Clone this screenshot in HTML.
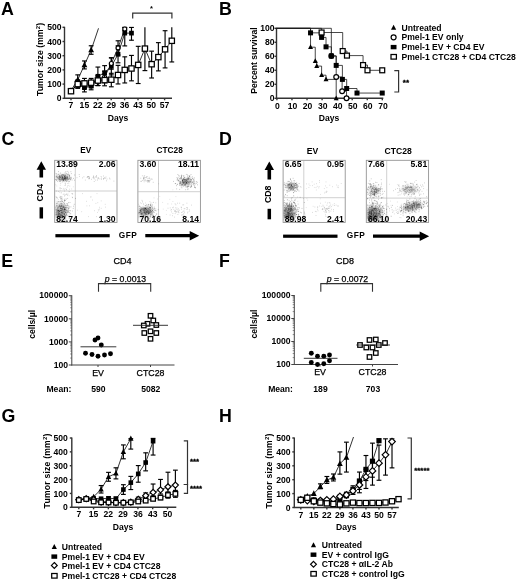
<!DOCTYPE html>
<html><head><meta charset="utf-8"><title>Figure</title>
<style>html,body{margin:0;padding:0;background:#fff;overflow:hidden}svg{display:block;filter:blur(0.3px)}text{font-family:"Liberation Sans",Arial,sans-serif;fill:#000}</style>
</head><body>
<svg width="520" height="582" viewBox="0 0 520 582">
<rect width="520" height="582" fill="#fff"/>
<defs><filter id="bl1_5" x="-50%" y="-50%" width="200%" height="200%"><feGaussianBlur stdDeviation="1.5"/></filter></defs>
<text x="1" y="15" font-size="17.8" font-weight="bold" text-anchor="start" >A</text>
<text x="219" y="15" font-size="17.8" font-weight="bold" text-anchor="start" >B</text>
<text x="1.5" y="145" font-size="17.8" font-weight="bold" text-anchor="start" >C</text>
<text x="219" y="145" font-size="17.8" font-weight="bold" text-anchor="start" >D</text>
<text x="1.2" y="266.7" font-size="17.8" font-weight="bold" text-anchor="start" >E</text>
<text x="219" y="266.7" font-size="17.8" font-weight="bold" text-anchor="start" >F</text>
<text x="1.6" y="422.1" font-size="17.8" font-weight="bold" text-anchor="start" >G</text>
<text x="219" y="422.1" font-size="17.8" font-weight="bold" text-anchor="start" >H</text>
<line x1="64.50" y1="26.80" x2="64.50" y2="98.80" stroke="#333" stroke-width="1.4" />
<line x1="64.00" y1="98.30" x2="172.00" y2="98.30" stroke="#333" stroke-width="1.4" />
<line x1="62.50" y1="98.30" x2="64.50" y2="98.30" stroke="#333" stroke-width="1.4" />
<text x="61.5" y="101.39999999999999" font-size="8.6" font-weight="bold" text-anchor="end"  class="t">0</text>
<line x1="62.50" y1="84.10" x2="64.50" y2="84.10" stroke="#333" stroke-width="1.4" />
<text x="61.5" y="87.19999999999999" font-size="8.6" font-weight="bold" text-anchor="end"  class="t">100</text>
<line x1="62.50" y1="69.90" x2="64.50" y2="69.90" stroke="#333" stroke-width="1.4" />
<text x="61.5" y="73.0" font-size="8.6" font-weight="bold" text-anchor="end"  class="t">200</text>
<line x1="62.50" y1="55.70" x2="64.50" y2="55.70" stroke="#333" stroke-width="1.4" />
<text x="61.5" y="58.8" font-size="8.6" font-weight="bold" text-anchor="end"  class="t">300</text>
<line x1="62.50" y1="41.50" x2="64.50" y2="41.50" stroke="#333" stroke-width="1.4" />
<text x="61.5" y="44.6" font-size="8.6" font-weight="bold" text-anchor="end"  class="t">400</text>
<line x1="62.50" y1="27.30" x2="64.50" y2="27.30" stroke="#333" stroke-width="1.4" />
<text x="61.5" y="30.4" font-size="8.6" font-weight="bold" text-anchor="end"  class="t">500</text>
<line x1="71.00" y1="98.30" x2="71.00" y2="100.30" stroke="#333" stroke-width="1.4" />
<text x="71" y="108.3" font-size="8.6" font-weight="bold" text-anchor="middle"  class="t">7</text>
<line x1="84.40" y1="98.30" x2="84.40" y2="100.30" stroke="#333" stroke-width="1.4" />
<text x="84.4" y="108.3" font-size="8.6" font-weight="bold" text-anchor="middle"  class="t">15</text>
<line x1="97.80" y1="98.30" x2="97.80" y2="100.30" stroke="#333" stroke-width="1.4" />
<text x="97.8" y="108.3" font-size="8.6" font-weight="bold" text-anchor="middle"  class="t">22</text>
<line x1="111.20" y1="98.30" x2="111.20" y2="100.30" stroke="#333" stroke-width="1.4" />
<text x="111.2" y="108.3" font-size="8.6" font-weight="bold" text-anchor="middle"  class="t">29</text>
<line x1="124.60" y1="98.30" x2="124.60" y2="100.30" stroke="#333" stroke-width="1.4" />
<text x="124.6" y="108.3" font-size="8.6" font-weight="bold" text-anchor="middle"  class="t">36</text>
<line x1="138.00" y1="98.30" x2="138.00" y2="100.30" stroke="#333" stroke-width="1.4" />
<text x="138" y="108.3" font-size="8.6" font-weight="bold" text-anchor="middle"  class="t">43</text>
<line x1="151.30" y1="98.30" x2="151.30" y2="100.30" stroke="#333" stroke-width="1.4" />
<text x="151.3" y="108.3" font-size="8.6" font-weight="bold" text-anchor="middle"  class="t">50</text>
<line x1="164.60" y1="98.30" x2="164.60" y2="100.30" stroke="#333" stroke-width="1.4" />
<text x="164.6" y="108.3" font-size="8.6" font-weight="bold" text-anchor="middle"  class="t">57</text>
<text x="42.7" y="59.4" font-size="8.6" font-weight="bold" text-anchor="middle" transform="rotate(-90 42.7 59.4)" letter-spacing="0.1" class="t">Tumor size (mm<tspan font-size="6" dy="-3">2</tspan><tspan dy="3">)</tspan></text>
<text x="118" y="121" font-size="8.6" font-weight="bold" text-anchor="middle"  class="t">Days</text>
<polyline points="71.00,90.49 77.72,79.84 84.44,64.93 91.16,50.02 98.50,28.30" fill="none" stroke="#000" stroke-width="0.8"/>
<line x1="77.72" y1="74.87" x2="77.72" y2="84.81" stroke="#000" stroke-width="1.15" />
<line x1="75.32" y1="74.87" x2="80.12" y2="74.87" stroke="#000" stroke-width="1.15" />
<line x1="75.32" y1="84.81" x2="80.12" y2="84.81" stroke="#000" stroke-width="1.15" />
<line x1="84.44" y1="60.95" x2="84.44" y2="68.91" stroke="#000" stroke-width="1.15" />
<line x1="82.04" y1="60.95" x2="86.84" y2="60.95" stroke="#000" stroke-width="1.15" />
<line x1="82.04" y1="68.91" x2="86.84" y2="68.91" stroke="#000" stroke-width="1.15" />
<line x1="91.16" y1="45.76" x2="91.16" y2="54.28" stroke="#000" stroke-width="1.15" />
<line x1="88.76" y1="45.76" x2="93.56" y2="45.76" stroke="#000" stroke-width="1.15" />
<line x1="88.76" y1="54.28" x2="93.56" y2="54.28" stroke="#000" stroke-width="1.15" />
<path d="M71.00 87.19 L73.90 92.79 L68.10 92.79 Z" fill="#000"/>
<path d="M77.72 76.54 L80.62 82.14 L74.82 82.14 Z" fill="#000"/>
<path d="M84.44 61.63 L87.34 67.23 L81.54 67.23 Z" fill="#000"/>
<path d="M91.16 46.72 L94.06 52.32 L88.26 52.32 Z" fill="#000"/>
<polyline points="71.00,91.20 77.72,84.10 84.44,87.65 91.16,86.23 97.88,76.29 104.60,72.74 111.32,66.35 118.04,54.28 124.76,33.12 131.48,33.12" fill="none" stroke="#000" stroke-width="0.8"/>
<line x1="71.00" y1="91.20" x2="71.00" y2="91.20" stroke="#000" stroke-width="1.15" />
<line x1="68.60" y1="91.20" x2="73.40" y2="91.20" stroke="#000" stroke-width="1.15" />
<line x1="68.60" y1="91.20" x2="73.40" y2="91.20" stroke="#000" stroke-width="1.15" />
<line x1="77.72" y1="79.84" x2="77.72" y2="88.36" stroke="#000" stroke-width="1.15" />
<line x1="75.32" y1="79.84" x2="80.12" y2="79.84" stroke="#000" stroke-width="1.15" />
<line x1="75.32" y1="88.36" x2="80.12" y2="88.36" stroke="#000" stroke-width="1.15" />
<line x1="84.44" y1="83.39" x2="84.44" y2="91.91" stroke="#000" stroke-width="1.15" />
<line x1="82.04" y1="83.39" x2="86.84" y2="83.39" stroke="#000" stroke-width="1.15" />
<line x1="82.04" y1="91.91" x2="86.84" y2="91.91" stroke="#000" stroke-width="1.15" />
<line x1="91.16" y1="82.68" x2="91.16" y2="89.78" stroke="#000" stroke-width="1.15" />
<line x1="88.76" y1="82.68" x2="93.56" y2="82.68" stroke="#000" stroke-width="1.15" />
<line x1="88.76" y1="89.78" x2="93.56" y2="89.78" stroke="#000" stroke-width="1.15" />
<line x1="97.88" y1="67.06" x2="97.88" y2="85.52" stroke="#000" stroke-width="1.15" />
<line x1="95.48" y1="67.06" x2="100.28" y2="67.06" stroke="#000" stroke-width="1.15" />
<line x1="95.48" y1="85.52" x2="100.28" y2="85.52" stroke="#000" stroke-width="1.15" />
<line x1="104.60" y1="65.64" x2="104.60" y2="79.84" stroke="#000" stroke-width="1.15" />
<line x1="102.20" y1="65.64" x2="107.00" y2="65.64" stroke="#000" stroke-width="1.15" />
<line x1="102.20" y1="79.84" x2="107.00" y2="79.84" stroke="#000" stroke-width="1.15" />
<line x1="111.32" y1="57.83" x2="111.32" y2="74.87" stroke="#000" stroke-width="1.15" />
<line x1="108.92" y1="57.83" x2="113.72" y2="57.83" stroke="#000" stroke-width="1.15" />
<line x1="108.92" y1="74.87" x2="113.72" y2="74.87" stroke="#000" stroke-width="1.15" />
<line x1="118.04" y1="45.76" x2="118.04" y2="62.80" stroke="#000" stroke-width="1.15" />
<line x1="115.64" y1="45.76" x2="120.44" y2="45.76" stroke="#000" stroke-width="1.15" />
<line x1="115.64" y1="62.80" x2="120.44" y2="62.80" stroke="#000" stroke-width="1.15" />
<line x1="124.76" y1="27.44" x2="124.76" y2="45.90" stroke="#000" stroke-width="1.15" />
<line x1="122.36" y1="27.44" x2="127.16" y2="27.44" stroke="#000" stroke-width="1.15" />
<line x1="122.36" y1="45.90" x2="127.16" y2="45.90" stroke="#000" stroke-width="1.15" />
<line x1="131.48" y1="27.44" x2="131.48" y2="40.22" stroke="#000" stroke-width="1.15" />
<line x1="129.08" y1="27.44" x2="133.88" y2="27.44" stroke="#000" stroke-width="1.15" />
<line x1="129.08" y1="40.22" x2="133.88" y2="40.22" stroke="#000" stroke-width="1.15" />
<rect x="68.65" y="88.85" width="4.70" height="4.70" fill="#000"/>
<rect x="75.37" y="81.75" width="4.70" height="4.70" fill="#000"/>
<rect x="82.09" y="85.30" width="4.70" height="4.70" fill="#000"/>
<rect x="88.81" y="83.88" width="4.70" height="4.70" fill="#000"/>
<rect x="95.53" y="73.94" width="4.70" height="4.70" fill="#000"/>
<rect x="102.25" y="70.39" width="4.70" height="4.70" fill="#000"/>
<rect x="108.97" y="64.00" width="4.70" height="4.70" fill="#000"/>
<rect x="115.69" y="51.93" width="4.70" height="4.70" fill="#000"/>
<rect x="122.41" y="30.77" width="4.70" height="4.70" fill="#000"/>
<rect x="129.13" y="30.77" width="4.70" height="4.70" fill="#000"/>
<polyline points="71.00,91.20 77.72,83.39 84.44,84.10 91.16,84.10 97.88,81.26 104.60,77.00 111.32,63.51 118.04,47.89 124.76,29.00" fill="none" stroke="#000" stroke-width="0.8"/>
<line x1="71.00" y1="91.20" x2="71.00" y2="91.20" stroke="#000" stroke-width="1.15" />
<line x1="68.60" y1="91.20" x2="73.40" y2="91.20" stroke="#000" stroke-width="1.15" />
<line x1="68.60" y1="91.20" x2="73.40" y2="91.20" stroke="#000" stroke-width="1.15" />
<line x1="77.72" y1="80.55" x2="77.72" y2="86.23" stroke="#000" stroke-width="1.15" />
<line x1="75.32" y1="80.55" x2="80.12" y2="80.55" stroke="#000" stroke-width="1.15" />
<line x1="75.32" y1="86.23" x2="80.12" y2="86.23" stroke="#000" stroke-width="1.15" />
<line x1="84.44" y1="81.26" x2="84.44" y2="86.94" stroke="#000" stroke-width="1.15" />
<line x1="82.04" y1="81.26" x2="86.84" y2="81.26" stroke="#000" stroke-width="1.15" />
<line x1="82.04" y1="86.94" x2="86.84" y2="86.94" stroke="#000" stroke-width="1.15" />
<line x1="91.16" y1="81.26" x2="91.16" y2="86.94" stroke="#000" stroke-width="1.15" />
<line x1="88.76" y1="81.26" x2="93.56" y2="81.26" stroke="#000" stroke-width="1.15" />
<line x1="88.76" y1="86.94" x2="93.56" y2="86.94" stroke="#000" stroke-width="1.15" />
<line x1="97.88" y1="77.00" x2="97.88" y2="85.52" stroke="#000" stroke-width="1.15" />
<line x1="95.48" y1="77.00" x2="100.28" y2="77.00" stroke="#000" stroke-width="1.15" />
<line x1="95.48" y1="85.52" x2="100.28" y2="85.52" stroke="#000" stroke-width="1.15" />
<line x1="104.60" y1="71.32" x2="104.60" y2="82.68" stroke="#000" stroke-width="1.15" />
<line x1="102.20" y1="71.32" x2="107.00" y2="71.32" stroke="#000" stroke-width="1.15" />
<line x1="102.20" y1="82.68" x2="107.00" y2="82.68" stroke="#000" stroke-width="1.15" />
<line x1="111.32" y1="57.83" x2="111.32" y2="69.19" stroke="#000" stroke-width="1.15" />
<line x1="108.92" y1="57.83" x2="113.72" y2="57.83" stroke="#000" stroke-width="1.15" />
<line x1="108.92" y1="69.19" x2="113.72" y2="69.19" stroke="#000" stroke-width="1.15" />
<line x1="118.04" y1="40.79" x2="118.04" y2="54.99" stroke="#000" stroke-width="1.15" />
<line x1="115.64" y1="40.79" x2="120.44" y2="40.79" stroke="#000" stroke-width="1.15" />
<line x1="115.64" y1="54.99" x2="120.44" y2="54.99" stroke="#000" stroke-width="1.15" />
<line x1="124.76" y1="27.44" x2="124.76" y2="30.57" stroke="#000" stroke-width="1.15" />
<line x1="122.36" y1="27.44" x2="127.16" y2="27.44" stroke="#000" stroke-width="1.15" />
<line x1="122.36" y1="30.57" x2="127.16" y2="30.57" stroke="#000" stroke-width="1.15" />
<circle cx="71.00" cy="91.20" r="2.00" fill="#fff" stroke="#000" stroke-width="1.2"/>
<circle cx="77.72" cy="83.39" r="2.00" fill="#fff" stroke="#000" stroke-width="1.2"/>
<circle cx="84.44" cy="84.10" r="2.00" fill="#fff" stroke="#000" stroke-width="1.2"/>
<circle cx="91.16" cy="84.10" r="2.00" fill="#fff" stroke="#000" stroke-width="1.2"/>
<circle cx="97.88" cy="81.26" r="2.00" fill="#fff" stroke="#000" stroke-width="1.2"/>
<circle cx="104.60" cy="77.00" r="2.00" fill="#fff" stroke="#000" stroke-width="1.2"/>
<circle cx="111.32" cy="63.51" r="2.00" fill="#fff" stroke="#000" stroke-width="1.2"/>
<circle cx="118.04" cy="47.89" r="2.00" fill="#fff" stroke="#000" stroke-width="1.2"/>
<circle cx="124.76" cy="29.00" r="2.00" fill="#fff" stroke="#000" stroke-width="1.2"/>
<polyline points="71.00,91.20 77.72,84.10 84.44,83.39 91.16,82.68 97.88,80.55 104.60,80.12 111.32,79.70 118.04,75.01 124.76,69.90 131.48,68.48 138.20,64.93 144.92,48.60 151.64,64.22 158.36,57.12 165.08,49.31 171.80,40.79" fill="none" stroke="#000" stroke-width="0.8"/>
<line x1="71.00" y1="91.20" x2="71.00" y2="91.20" stroke="#000" stroke-width="1.15" />
<line x1="68.60" y1="91.20" x2="73.40" y2="91.20" stroke="#000" stroke-width="1.15" />
<line x1="68.60" y1="91.20" x2="73.40" y2="91.20" stroke="#000" stroke-width="1.15" />
<line x1="77.72" y1="80.55" x2="77.72" y2="87.65" stroke="#000" stroke-width="1.15" />
<line x1="75.32" y1="80.55" x2="80.12" y2="80.55" stroke="#000" stroke-width="1.15" />
<line x1="75.32" y1="87.65" x2="80.12" y2="87.65" stroke="#000" stroke-width="1.15" />
<line x1="84.44" y1="78.42" x2="84.44" y2="88.36" stroke="#000" stroke-width="1.15" />
<line x1="82.04" y1="78.42" x2="86.84" y2="78.42" stroke="#000" stroke-width="1.15" />
<line x1="82.04" y1="88.36" x2="86.84" y2="88.36" stroke="#000" stroke-width="1.15" />
<line x1="91.16" y1="78.42" x2="91.16" y2="86.94" stroke="#000" stroke-width="1.15" />
<line x1="88.76" y1="78.42" x2="93.56" y2="78.42" stroke="#000" stroke-width="1.15" />
<line x1="88.76" y1="86.94" x2="93.56" y2="86.94" stroke="#000" stroke-width="1.15" />
<line x1="97.88" y1="75.58" x2="97.88" y2="85.52" stroke="#000" stroke-width="1.15" />
<line x1="95.48" y1="75.58" x2="100.28" y2="75.58" stroke="#000" stroke-width="1.15" />
<line x1="95.48" y1="85.52" x2="100.28" y2="85.52" stroke="#000" stroke-width="1.15" />
<line x1="104.60" y1="74.44" x2="104.60" y2="85.80" stroke="#000" stroke-width="1.15" />
<line x1="102.20" y1="74.44" x2="107.00" y2="74.44" stroke="#000" stroke-width="1.15" />
<line x1="102.20" y1="85.80" x2="107.00" y2="85.80" stroke="#000" stroke-width="1.15" />
<line x1="111.32" y1="73.31" x2="111.32" y2="86.80" stroke="#000" stroke-width="1.15" />
<line x1="108.92" y1="73.31" x2="113.72" y2="73.31" stroke="#000" stroke-width="1.15" />
<line x1="108.92" y1="86.80" x2="113.72" y2="86.80" stroke="#000" stroke-width="1.15" />
<line x1="118.04" y1="65.36" x2="118.04" y2="83.96" stroke="#000" stroke-width="1.15" />
<line x1="115.64" y1="65.36" x2="120.44" y2="65.36" stroke="#000" stroke-width="1.15" />
<line x1="115.64" y1="83.96" x2="120.44" y2="83.96" stroke="#000" stroke-width="1.15" />
<line x1="124.76" y1="56.84" x2="124.76" y2="82.96" stroke="#000" stroke-width="1.15" />
<line x1="122.36" y1="56.84" x2="127.16" y2="56.84" stroke="#000" stroke-width="1.15" />
<line x1="122.36" y1="82.96" x2="127.16" y2="82.96" stroke="#000" stroke-width="1.15" />
<line x1="131.48" y1="55.42" x2="131.48" y2="80.83" stroke="#000" stroke-width="1.15" />
<line x1="129.08" y1="55.42" x2="133.88" y2="55.42" stroke="#000" stroke-width="1.15" />
<line x1="129.08" y1="80.83" x2="133.88" y2="80.83" stroke="#000" stroke-width="1.15" />
<line x1="138.20" y1="46.33" x2="138.20" y2="83.53" stroke="#000" stroke-width="1.15" />
<line x1="135.80" y1="46.33" x2="140.60" y2="46.33" stroke="#000" stroke-width="1.15" />
<line x1="135.80" y1="83.53" x2="140.60" y2="83.53" stroke="#000" stroke-width="1.15" />
<line x1="144.92" y1="27.30" x2="144.92" y2="70.61" stroke="#000" stroke-width="1.15" />
<line x1="142.52" y1="70.61" x2="147.32" y2="70.61" stroke="#000" stroke-width="1.15" />
<line x1="151.64" y1="51.16" x2="151.64" y2="77.99" stroke="#000" stroke-width="1.15" />
<line x1="149.24" y1="51.16" x2="154.04" y2="51.16" stroke="#000" stroke-width="1.15" />
<line x1="149.24" y1="77.99" x2="154.04" y2="77.99" stroke="#000" stroke-width="1.15" />
<line x1="158.36" y1="42.64" x2="158.36" y2="70.89" stroke="#000" stroke-width="1.15" />
<line x1="155.96" y1="42.64" x2="160.76" y2="42.64" stroke="#000" stroke-width="1.15" />
<line x1="155.96" y1="70.89" x2="160.76" y2="70.89" stroke="#000" stroke-width="1.15" />
<line x1="165.08" y1="30.71" x2="165.08" y2="67.91" stroke="#000" stroke-width="1.15" />
<line x1="162.68" y1="30.71" x2="167.48" y2="30.71" stroke="#000" stroke-width="1.15" />
<line x1="162.68" y1="67.91" x2="167.48" y2="67.91" stroke="#000" stroke-width="1.15" />
<line x1="171.80" y1="27.30" x2="171.80" y2="61.95" stroke="#000" stroke-width="1.15" />
<line x1="169.40" y1="61.95" x2="174.20" y2="61.95" stroke="#000" stroke-width="1.15" />
<rect x="68.35" y="88.55" width="5.30" height="5.30" fill="#fff" stroke="#000" stroke-width="1.25"/>
<rect x="75.07" y="81.45" width="5.30" height="5.30" fill="#fff" stroke="#000" stroke-width="1.25"/>
<rect x="81.79" y="80.74" width="5.30" height="5.30" fill="#fff" stroke="#000" stroke-width="1.25"/>
<rect x="88.51" y="80.03" width="5.30" height="5.30" fill="#fff" stroke="#000" stroke-width="1.25"/>
<rect x="95.23" y="77.90" width="5.30" height="5.30" fill="#fff" stroke="#000" stroke-width="1.25"/>
<rect x="101.95" y="77.47" width="5.30" height="5.30" fill="#fff" stroke="#000" stroke-width="1.25"/>
<rect x="108.67" y="77.05" width="5.30" height="5.30" fill="#fff" stroke="#000" stroke-width="1.25"/>
<rect x="115.39" y="72.36" width="5.30" height="5.30" fill="#fff" stroke="#000" stroke-width="1.25"/>
<rect x="122.11" y="67.25" width="5.30" height="5.30" fill="#fff" stroke="#000" stroke-width="1.25"/>
<rect x="128.83" y="65.83" width="5.30" height="5.30" fill="#fff" stroke="#000" stroke-width="1.25"/>
<rect x="135.55" y="62.28" width="5.30" height="5.30" fill="#fff" stroke="#000" stroke-width="1.25"/>
<rect x="142.27" y="45.95" width="5.30" height="5.30" fill="#fff" stroke="#000" stroke-width="1.25"/>
<rect x="148.99" y="61.57" width="5.30" height="5.30" fill="#fff" stroke="#000" stroke-width="1.25"/>
<rect x="155.71" y="54.47" width="5.30" height="5.30" fill="#fff" stroke="#000" stroke-width="1.25"/>
<rect x="162.43" y="46.66" width="5.30" height="5.30" fill="#fff" stroke="#000" stroke-width="1.25"/>
<rect x="169.15" y="38.14" width="5.30" height="5.30" fill="#fff" stroke="#000" stroke-width="1.25"/>
<polyline points="132.70,18.60 132.70,13.10 171.90,13.10 171.90,18.60" fill="none" stroke="#333" stroke-width="1.2"/>
<text x="151.5" y="11.2" font-size="7.5" font-weight="bold" text-anchor="middle"  class="t">*</text>
<line x1="276.50" y1="27.80" x2="276.50" y2="98.80" stroke="#333" stroke-width="1.4" />
<line x1="276.00" y1="98.30" x2="383.32" y2="98.30" stroke="#333" stroke-width="1.4" />
<line x1="274.50" y1="98.30" x2="276.50" y2="98.30" stroke="#333" stroke-width="1.4" />
<text x="274.6" y="101.39999999999999" font-size="8.6" font-weight="bold" text-anchor="end"  class="t">0</text>
<line x1="274.50" y1="84.30" x2="276.50" y2="84.30" stroke="#333" stroke-width="1.4" />
<text x="274.6" y="87.39999999999999" font-size="8.6" font-weight="bold" text-anchor="end"  class="t">20</text>
<line x1="274.50" y1="70.30" x2="276.50" y2="70.30" stroke="#333" stroke-width="1.4" />
<text x="274.6" y="73.39999999999999" font-size="8.6" font-weight="bold" text-anchor="end"  class="t">40</text>
<line x1="274.50" y1="56.30" x2="276.50" y2="56.30" stroke="#333" stroke-width="1.4" />
<text x="274.6" y="59.4" font-size="8.6" font-weight="bold" text-anchor="end"  class="t">60</text>
<line x1="274.50" y1="42.30" x2="276.50" y2="42.30" stroke="#333" stroke-width="1.4" />
<text x="274.6" y="45.4" font-size="8.6" font-weight="bold" text-anchor="end"  class="t">80</text>
<line x1="274.50" y1="28.30" x2="276.50" y2="28.30" stroke="#333" stroke-width="1.4" />
<text x="274.6" y="31.4" font-size="8.6" font-weight="bold" text-anchor="end"  class="t">100</text>
<line x1="276.90" y1="98.30" x2="276.90" y2="100.30" stroke="#333" stroke-width="1.4" />
<text x="277.5" y="108.89999999999999" font-size="8.6" font-weight="bold" text-anchor="middle"  class="t">0</text>
<line x1="291.96" y1="98.30" x2="291.96" y2="100.30" stroke="#333" stroke-width="1.4" />
<text x="292.56" y="108.89999999999999" font-size="8.6" font-weight="bold" text-anchor="middle"  class="t">10</text>
<line x1="307.02" y1="98.30" x2="307.02" y2="100.30" stroke="#333" stroke-width="1.4" />
<text x="307.62" y="108.89999999999999" font-size="8.6" font-weight="bold" text-anchor="middle"  class="t">20</text>
<line x1="322.08" y1="98.30" x2="322.08" y2="100.30" stroke="#333" stroke-width="1.4" />
<text x="322.68" y="108.89999999999999" font-size="8.6" font-weight="bold" text-anchor="middle"  class="t">30</text>
<line x1="337.14" y1="98.30" x2="337.14" y2="100.30" stroke="#333" stroke-width="1.4" />
<text x="337.74" y="108.89999999999999" font-size="8.6" font-weight="bold" text-anchor="middle"  class="t">40</text>
<line x1="352.20" y1="98.30" x2="352.20" y2="100.30" stroke="#333" stroke-width="1.4" />
<text x="352.8" y="108.89999999999999" font-size="8.6" font-weight="bold" text-anchor="middle"  class="t">50</text>
<line x1="367.26" y1="98.30" x2="367.26" y2="100.30" stroke="#333" stroke-width="1.4" />
<text x="367.86" y="108.89999999999999" font-size="8.6" font-weight="bold" text-anchor="middle"  class="t">60</text>
<line x1="382.32" y1="98.30" x2="382.32" y2="100.30" stroke="#333" stroke-width="1.4" />
<text x="382.92" y="108.89999999999999" font-size="8.6" font-weight="bold" text-anchor="middle"  class="t">70</text>
<text x="257.3" y="60.5" font-size="8.6" font-weight="bold" text-anchor="middle" transform="rotate(-90 257.3 60.5)"  class="t">Percent survival</text>
<text x="329" y="121" font-size="8.6" font-weight="bold" text-anchor="middle"  class="t">Days</text>
<polyline points="276.50,28.30 310.54,28.30 310.54,47.20 315.26,47.20 315.26,61.20 316.74,61.20 316.74,66.10 321.60,66.10 321.60,75.20 326.03,75.20 326.03,79.40 336.20,79.40 336.20,98.30" fill="none" stroke="#1a1a1a" stroke-width="0.8"/>
<path d="M310.54 44.30 L313.04 49.10 L308.04 49.10 Z" fill="#000"/>
<path d="M315.26 58.30 L317.76 63.10 L312.76 63.10 Z" fill="#000"/>
<path d="M316.74 63.20 L319.24 68.00 L314.24 68.00 Z" fill="#000"/>
<path d="M321.60 72.30 L324.10 77.10 L319.10 77.10 Z" fill="#000"/>
<path d="M326.03 76.50 L328.53 81.30 L323.53 81.30 Z" fill="#000"/>
<path d="M336.20 95.40 L338.70 100.20 L333.70 100.20 Z" fill="#000"/>
<polyline points="276.50,28.30 331.34,28.30 331.34,55.95 336.20,55.95 336.20,76.95 342.11,76.95 342.11,91.30 346.53,91.30 346.53,98.30" fill="none" stroke="#1a1a1a" stroke-width="0.8"/>
<circle cx="331.34" cy="55.95" r="2.40" fill="#fff" stroke="#000" stroke-width="1.2"/>
<circle cx="336.20" cy="76.95" r="2.40" fill="#fff" stroke="#000" stroke-width="1.2"/>
<circle cx="342.11" cy="91.30" r="2.40" fill="#fff" stroke="#000" stroke-width="1.2"/>
<circle cx="346.53" cy="98.30" r="2.40" fill="#fff" stroke="#000" stroke-width="1.2"/>
<polyline points="276.50,28.30 310.54,28.30 310.54,32.85 321.60,32.85 321.60,37.40 326.03,37.40 326.03,46.85 331.34,46.85 331.34,55.95 336.20,55.95 336.20,65.40 342.40,65.40 342.40,79.40 346.68,79.40 346.68,88.50 357.00,88.50 357.00,93.05 382.23,93.05 382.23,93.05" fill="none" stroke="#1a1a1a" stroke-width="0.8"/>
<rect x="308.04" y="30.35" width="5.00" height="5.00" fill="#000"/>
<rect x="319.10" y="34.90" width="5.00" height="5.00" fill="#000"/>
<rect x="323.53" y="44.35" width="5.00" height="5.00" fill="#000"/>
<rect x="328.84" y="53.45" width="5.00" height="5.00" fill="#000"/>
<rect x="333.70" y="62.90" width="5.00" height="5.00" fill="#000"/>
<rect x="339.90" y="76.90" width="5.00" height="5.00" fill="#000"/>
<rect x="344.18" y="86.00" width="5.00" height="5.00" fill="#000"/>
<rect x="354.50" y="90.55" width="5.00" height="5.00" fill="#000"/>
<rect x="379.73" y="90.55" width="5.00" height="5.00" fill="#000"/>
<polyline points="276.50,28.30 321.60,28.30 321.60,32.50 342.69,32.50 342.69,51.05 346.97,51.05 346.97,55.60 363.05,55.60 363.05,65.05 367.48,65.05 367.48,70.30 382.23,70.30 382.23,70.30" fill="none" stroke="#1a1a1a" stroke-width="0.8"/>
<rect x="319.15" y="30.05" width="4.90" height="4.90" fill="#fff" stroke="#000" stroke-width="1.25"/>
<rect x="340.25" y="48.60" width="4.90" height="4.90" fill="#fff" stroke="#000" stroke-width="1.25"/>
<rect x="344.52" y="53.15" width="4.90" height="4.90" fill="#fff" stroke="#000" stroke-width="1.25"/>
<rect x="360.60" y="62.60" width="4.90" height="4.90" fill="#fff" stroke="#000" stroke-width="1.25"/>
<rect x="365.03" y="67.85" width="4.90" height="4.90" fill="#fff" stroke="#000" stroke-width="1.25"/>
<rect x="379.78" y="67.85" width="4.90" height="4.90" fill="#fff" stroke="#000" stroke-width="1.25"/>
<path d="M393.60 24.80 L396.20 29.80 L391.00 29.80 Z" fill="#000"/>
<text x="401.5" y="30.6" font-size="8.6" font-weight="bold" text-anchor="start"  class="t">Untreated</text>
<circle cx="393.60" cy="37.30" r="2.50" fill="#fff" stroke="#000" stroke-width="1.2"/>
<text x="401.5" y="40.4" font-size="8.6" font-weight="bold" text-anchor="start"  class="t">Pmel-1 EV only</text>
<rect x="390.70" y="44.90" width="5.8" height="4.4" fill="#000"/>
<text x="401.5" y="50.1" font-size="8.6" font-weight="bold" text-anchor="start"  class="t">Pmel-1 EV + CD4 EV</text>
<rect x="391.00" y="54.50" width="5.4" height="4.6" fill="#fff" stroke="#000" stroke-width="1.25"/>
<text x="401.5" y="59.9" font-size="8.6" font-weight="bold" text-anchor="start"  class="t">Pmel-1 CTC28 + CD4 CTC28</text>
<polyline points="394.30,70.70 398.60,70.70 398.60,92.00 394.30,92.00" fill="none" stroke="#333" stroke-width="1.2"/>
<text x="402.8" y="85" font-size="8" font-weight="bold" text-anchor="start" stroke="#000" stroke-width="0.3">**</text>
<clipPath id="cp1"><rect x="55.1" y="160.70000000000002" width="61.5" height="61.3"/></clipPath>
<rect x="54.7" y="160.3" width="62.3" height="62.099999999999994" fill="#fff" stroke="#8e8e8e" stroke-width="0.85"/>
<line x1="75.30" y1="160.30" x2="75.30" y2="222.40" stroke="#b0b0b0" stroke-width="0.6" />
<line x1="54.70" y1="191.00" x2="117.00" y2="191.00" stroke="#b0b0b0" stroke-width="0.6" />
<g clip-path="url(#cp1)">
<ellipse cx="63.2" cy="177.5" rx="6.5" ry="2.8" fill="#000" fill-opacity="0.225" filter="url(#bl1_5)" transform="rotate(0 63.2 177.5)"/>
<ellipse cx="61" cy="211" rx="5.5" ry="8" fill="#000" fill-opacity="0.25" filter="url(#bl1_5)" transform="rotate(0 61 211)"/>
<ellipse cx="59" cy="215" rx="3.5" ry="5" fill="#000" fill-opacity="0.175" filter="url(#bl1_5)" transform="rotate(0 59 215)"/>
<path d="M62.1 178.8h.01M67.9 178.6h.01M56.2 179.6h.01M59.5 176.5h.01M64.5 178.5h.01M60.6 175.9h.01M61.3 175.4h.01M65.0 174.2h.01M62.8 175.7h.01M66.0 179.8h.01M65.8 176.2h.01M68.6 172.9h.01M67.8 178.0h.01M65.4 178.9h.01M57.7 181.3h.01M63.7 180.2h.01M59.5 179.8h.01M62.6 176.9h.01M59.9 179.1h.01M63.8 178.9h.01M66.4 178.9h.01M63.1 179.7h.01M58.5 178.2h.01M64.4 176.4h.01M62.3 177.5h.01M62.9 179.8h.01M61.8 179.0h.01M66.1 174.2h.01M66.5 177.9h.01M74.7 175.0h.01M64.1 179.1h.01M58.9 174.2h.01M63.2 175.0h.01M67.3 177.2h.01M64.9 178.5h.01M69.3 177.2h.01M69.2 177.0h.01M64.5 176.2h.01M62.9 180.0h.01M62.4 177.5h.01M65.4 179.9h.01M56.3 176.2h.01M63.9 174.9h.01M59.4 175.8h.01M66.0 178.4h.01M67.0 180.6h.01M65.2 183.2h.01M65.6 179.7h.01M63.1 177.2h.01M59.6 175.7h.01M65.8 178.7h.01M57.3 176.1h.01M72.1 180.0h.01M70.8 179.5h.01M63.0 178.8h.01M65.9 178.1h.01M60.6 177.6h.01M62.6 174.7h.01M65.1 175.4h.01M58.6 171.6h.01" stroke="#000" stroke-opacity="0.35" stroke-width="0.75" stroke-linecap="round" fill="none"/>
<path d="M62.3 176.9h.01M67.6 178.2h.01M65.3 178.7h.01M64.5 177.5h.01M60.4 181.6h.01M61.8 177.4h.01M61.0 180.4h.01M63.4 180.6h.01M65.3 177.5h.01M69.3 178.4h.01M61.3 174.7h.01M57.1 178.2h.01M64.7 175.9h.01M64.2 178.6h.01M56.6 180.5h.01M66.7 173.4h.01M65.5 177.3h.01M60.4 176.6h.01M69.4 176.6h.01M69.1 175.2h.01M67.9 179.6h.01M62.5 178.2h.01M71.6 178.3h.01M61.8 178.5h.01M64.9 178.1h.01M73.4 178.4h.01M66.8 181.0h.01M67.8 171.4h.01M63.9 180.3h.01M62.8 181.1h.01M67.0 177.0h.01M56.8 174.1h.01M68.5 179.3h.01M66.4 181.3h.01M69.5 175.3h.01M60.1 179.9h.01M63.2 179.5h.01M69.5 181.3h.01M60.7 178.1h.01M62.4 174.7h.01M67.4 179.4h.01M56.6 176.1h.01M56.8 177.3h.01M60.5 173.1h.01M64.4 176.5h.01M68.8 179.1h.01M62.0 176.5h.01M59.3 179.2h.01M59.4 177.4h.01M58.9 176.8h.01M74.4 180.2h.01M70.3 178.6h.01M64.6 176.0h.01M64.4 178.0h.01M58.2 174.5h.01M59.5 178.2h.01M60.1 177.3h.01M61.8 179.4h.01M62.7 178.0h.01M65.0 180.0h.01" stroke="#000" stroke-opacity="0.35" stroke-width="0.75" stroke-linecap="round" fill="none"/>
<path d="M59.3 177.1h.01M64.9 178.0h.01M56.1 173.6h.01M65.4 176.1h.01M65.5 180.4h.01M65.9 178.2h.01M59.8 178.2h.01M57.0 179.5h.01M63.7 174.6h.01M59.1 176.4h.01M69.3 178.9h.01M58.5 179.8h.01M69.9 179.0h.01M67.2 178.8h.01M62.4 179.9h.01M64.6 179.1h.01M67.6 177.7h.01M57.4 177.3h.01M68.5 174.7h.01M64.6 177.9h.01M65.6 177.6h.01M61.4 176.7h.01M70.9 171.7h.01M61.4 179.1h.01M60.9 177.4h.01M67.4 174.9h.01M56.1 176.8h.01M67.8 174.3h.01M62.6 178.0h.01M67.6 176.9h.01M63.8 179.2h.01M65.8 175.4h.01M69.4 175.4h.01M59.5 181.2h.01M62.8 176.2h.01M68.0 181.0h.01M63.7 177.9h.01M55.4 179.5h.01M63.5 180.7h.01M60.4 179.6h.01M58.0 177.6h.01M70.7 177.7h.01M60.9 180.1h.01M63.2 179.5h.01M67.1 176.3h.01M58.2 178.4h.01M66.2 177.0h.01M66.5 179.3h.01M65.1 172.8h.01M71.3 173.6h.01M71.1 177.3h.01M64.4 179.5h.01M66.9 177.8h.01M65.9 171.6h.01M62.9 178.8h.01M68.8 181.8h.01M61.5 175.4h.01M70.4 179.9h.01M65.1 178.5h.01M63.4 175.7h.01M63.2 178.0h.01M65.0 177.2h.01M59.3 179.3h.01" stroke="#000" stroke-opacity="0.35" stroke-width="0.75" stroke-linecap="round" fill="none"/>
<path d="M57.0 220.8h.01M64.4 211.6h.01M69.9 216.8h.01M60.6 217.4h.01M68.0 209.1h.01M66.7 210.5h.01M65.8 210.7h.01M60.8 215.0h.01M59.9 197.4h.01M60.9 201.3h.01M61.1 198.7h.01M65.0 199.0h.01M62.2 212.1h.01M55.7 207.2h.01M64.4 200.2h.01M61.7 205.6h.01M61.2 192.8h.01M62.7 201.5h.01M61.8 205.0h.01M58.5 201.7h.01M59.6 211.2h.01M67.3 211.3h.01M64.4 209.5h.01M58.1 212.2h.01M70.0 210.6h.01M65.2 207.4h.01M58.7 215.8h.01M67.6 207.5h.01M62.1 201.2h.01M57.7 211.5h.01M59.7 205.9h.01M59.5 211.6h.01M62.3 215.5h.01M57.0 214.6h.01M64.4 209.8h.01M61.5 215.4h.01M62.7 209.5h.01M61.9 210.4h.01M65.6 209.6h.01M69.2 206.8h.01M70.1 213.3h.01M64.5 214.1h.01M55.7 209.2h.01M60.3 217.3h.01M62.3 215.4h.01M62.2 212.2h.01M64.3 200.3h.01M63.5 206.2h.01M58.9 210.6h.01M64.9 215.7h.01M66.5 212.9h.01M65.9 208.1h.01M59.6 205.1h.01M61.2 216.4h.01M56.5 220.0h.01M65.2 208.1h.01M68.4 208.1h.01M70.1 210.8h.01M62.6 217.8h.01M56.9 213.7h.01M65.6 200.5h.01M62.4 207.9h.01M68.0 212.2h.01M61.8 213.2h.01M62.5 217.2h.01M60.8 207.7h.01M61.8 206.2h.01M58.2 207.8h.01M64.5 201.7h.01M67.7 198.4h.01M68.3 209.0h.01M62.9 216.6h.01M60.1 206.9h.01M60.8 214.6h.01M57.2 215.5h.01M58.7 213.3h.01M58.9 215.8h.01M61.6 206.2h.01M64.4 214.7h.01M66.2 194.5h.01M60.4 210.7h.01M63.3 207.1h.01M63.5 206.9h.01M64.6 213.9h.01M62.1 208.7h.01M59.1 206.5h.01M57.1 212.8h.01M62.7 199.2h.01M65.5 215.5h.01M60.7 208.5h.01M57.3 210.3h.01M61.0 198.6h.01M64.5 208.5h.01M62.1 206.7h.01M65.0 211.4h.01M66.1 220.4h.01" stroke="#000" stroke-opacity="0.35" stroke-width="0.75" stroke-linecap="round" fill="none"/>
<path d="M60.2 201.6h.01M69.1 215.1h.01M66.9 203.5h.01M64.9 216.4h.01M56.4 211.7h.01M66.1 214.0h.01M56.9 206.4h.01M58.7 214.2h.01M70.8 213.9h.01M65.7 216.6h.01M65.0 215.1h.01M56.9 203.5h.01M56.1 210.3h.01M65.4 212.8h.01M57.3 210.7h.01M60.8 208.5h.01M61.3 210.1h.01M60.2 205.7h.01M64.5 207.8h.01M67.4 195.1h.01M63.5 218.8h.01M64.4 203.5h.01M60.9 210.6h.01M64.8 215.1h.01M63.3 207.7h.01M58.7 215.2h.01M61.8 212.5h.01M62.0 215.6h.01M68.6 202.6h.01M61.7 208.5h.01M61.7 212.5h.01M59.7 220.7h.01M57.5 208.2h.01M58.6 210.6h.01M62.7 213.2h.01M58.9 214.6h.01M57.8 214.7h.01M69.4 212.6h.01M64.2 212.9h.01M57.1 201.7h.01M57.1 202.9h.01M59.4 213.5h.01M68.7 208.1h.01M69.3 208.0h.01M58.8 212.9h.01M59.4 216.3h.01M58.7 210.4h.01M63.4 221.3h.01M62.8 217.2h.01M70.0 202.5h.01M59.0 214.7h.01M64.4 209.6h.01M64.2 204.3h.01M63.6 216.3h.01M62.1 208.6h.01M61.8 196.6h.01M61.4 220.8h.01M67.9 205.9h.01M73.5 206.2h.01M64.7 208.7h.01M58.7 206.9h.01M64.6 220.8h.01M66.6 214.8h.01M56.8 203.8h.01M64.2 205.9h.01M62.1 215.4h.01M64.2 210.3h.01M65.9 211.9h.01M66.2 207.8h.01M64.1 209.5h.01M64.0 213.9h.01M66.3 210.9h.01M63.7 202.6h.01M60.7 208.3h.01M72.7 194.0h.01M72.3 211.0h.01M59.2 211.4h.01M67.7 215.3h.01M62.8 213.7h.01M66.3 207.6h.01M62.8 206.0h.01M63.0 216.9h.01M60.4 196.8h.01M63.3 207.7h.01M56.4 214.6h.01M68.6 211.8h.01M59.1 211.6h.01M66.3 214.3h.01M61.1 199.3h.01M64.5 209.4h.01M64.6 195.9h.01M65.1 207.3h.01M63.0 215.4h.01" stroke="#000" stroke-opacity="0.35" stroke-width="0.75" stroke-linecap="round" fill="none"/>
<path d="M58.3 213.9h.01M61.9 214.4h.01M61.3 215.2h.01M60.4 216.2h.01M63.7 217.8h.01M63.0 210.9h.01M62.0 201.0h.01M64.7 210.1h.01M67.2 204.8h.01M59.0 201.4h.01M69.2 218.1h.01M61.6 210.5h.01M61.0 208.5h.01M61.6 206.1h.01M64.2 214.5h.01M65.5 212.4h.01M56.7 209.7h.01M73.2 208.4h.01M58.4 212.1h.01M65.7 216.7h.01M67.7 203.9h.01M67.6 210.7h.01M68.8 205.9h.01M68.4 210.4h.01M69.3 217.9h.01M58.9 210.2h.01M61.4 203.4h.01M64.2 209.0h.01M65.7 209.8h.01M63.4 213.9h.01M75.4 198.4h.01M60.9 212.9h.01M62.0 203.8h.01M65.6 212.5h.01M64.2 207.1h.01M70.9 206.9h.01M66.3 206.0h.01M66.3 199.1h.01M56.1 212.7h.01M59.5 206.1h.01M63.4 212.1h.01M61.4 209.9h.01M66.1 205.6h.01M61.6 211.8h.01M56.6 197.7h.01M60.7 206.6h.01M66.1 209.4h.01M56.1 196.8h.01M63.0 212.2h.01M60.2 188.1h.01M62.0 208.8h.01M62.2 210.9h.01M65.2 209.5h.01M67.2 212.7h.01M62.9 209.5h.01M63.7 211.0h.01M60.0 214.9h.01M60.4 215.3h.01M63.0 210.0h.01M59.2 213.7h.01M64.5 200.4h.01M60.1 216.1h.01M62.0 212.9h.01M72.6 197.6h.01M60.7 203.7h.01M61.9 197.9h.01M57.8 207.9h.01M67.7 221.6h.01M58.5 210.3h.01M64.3 213.4h.01M65.5 205.2h.01M56.5 205.4h.01M61.8 219.3h.01M60.7 206.8h.01M64.0 211.7h.01M65.8 219.1h.01M59.6 218.3h.01M59.9 213.8h.01M68.1 211.3h.01M58.1 216.1h.01M66.3 215.3h.01M74.2 204.3h.01M67.5 205.4h.01M57.3 209.8h.01M68.0 212.6h.01M57.1 205.7h.01M55.7 214.8h.01M58.5 210.8h.01M59.7 211.0h.01M60.6 210.4h.01M60.4 210.3h.01M72.0 193.6h.01M66.1 212.9h.01M63.1 207.2h.01M57.8 210.3h.01M57.6 198.0h.01" stroke="#000" stroke-opacity="0.35" stroke-width="0.75" stroke-linecap="round" fill="none"/>
<path d="M101.4 179.3h.01M79.5 176.4h.01M95.9 176.8h.01M89.3 178.4h.01M79.2 174.5h.01M98.4 178.2h.01M97.9 178.8h.01M99.9 178.9h.01M87.5 176.7h.01M103.4 179.3h.01M105.5 178.2h.01M106.0 177.0h.01M89.1 178.7h.01M98.1 177.7h.01M95.9 177.1h.01M96.6 175.5h.01M93.5 176.2h.01" stroke="#000" stroke-opacity="0.27999999999999997" stroke-width="0.75" stroke-linecap="round" fill="none"/>
<path d="M89.1 176.9h.01M113.9 181.1h.01M104.5 177.9h.01M93.9 177.5h.01M83.9 176.8h.01M87.7 176.9h.01M93.0 177.7h.01M95.7 180.1h.01M106.4 180.8h.01M103.6 176.0h.01M87.1 177.4h.01M94.2 181.5h.01M107.0 179.0h.01M97.4 180.1h.01M91.5 179.3h.01M109.4 178.1h.01" stroke="#000" stroke-opacity="0.27999999999999997" stroke-width="0.75" stroke-linecap="round" fill="none"/>
<path d="M101.1 176.5h.01M88.5 176.8h.01M85.3 180.1h.01M96.6 176.9h.01M93.8 178.1h.01M77.0 177.7h.01M101.5 178.0h.01M89.4 177.4h.01M94.2 178.9h.01M88.9 178.7h.01M88.7 176.6h.01M103.5 178.5h.01M104.1 178.2h.01M82.6 177.9h.01M110.0 179.0h.01M93.7 176.2h.01" stroke="#000" stroke-opacity="0.27999999999999997" stroke-width="0.75" stroke-linecap="round" fill="none"/>
<path d="M98.8 210.8h.01M90.8 197.1h.01M101.2 200.9h.01M99.4 207.3h.01M97.8 202.7h.01M86.5 201.3h.01M91.0 196.8h.01M101.6 216.1h.01M92.5 200.0h.01" stroke="#000" stroke-opacity="0.21" stroke-width="0.75" stroke-linecap="round" fill="none"/>
<path d="M98.3 209.7h.01M95.9 203.4h.01M96.5 216.6h.01M97.5 212.4h.01M105.2 204.3h.01M82.5 193.6h.01M81.7 211.7h.01M94.6 210.7h.01" stroke="#000" stroke-opacity="0.21" stroke-width="0.75" stroke-linecap="round" fill="none"/>
<path d="M88.6 216.6h.01M86.9 205.9h.01M105.5 207.1h.01M97.0 193.6h.01M99.6 221.1h.01M77.3 210.2h.01M89.5 205.8h.01M99.6 209.1h.01M101.2 208.3h.01" stroke="#000" stroke-opacity="0.21" stroke-width="0.75" stroke-linecap="round" fill="none"/>
<path d="M60.3 185.3h.01M67.5 183.5h.01M65.7 195.1h.01M56.8 186.0h.01M63.2 189.6h.01M61.4 200.8h.01M67.1 187.4h.01M58.5 199.4h.01" stroke="#000" stroke-opacity="0.175" stroke-width="0.75" stroke-linecap="round" fill="none"/>
<path d="M69.1 195.7h.01M72.2 197.0h.01M64.0 193.9h.01M60.2 190.0h.01M60.8 197.8h.01M60.0 196.2h.01M68.1 194.0h.01M59.6 192.2h.01" stroke="#000" stroke-opacity="0.175" stroke-width="0.75" stroke-linecap="round" fill="none"/>
<path d="M57.0 200.0h.01M73.3 186.8h.01M68.3 185.5h.01M64.8 194.3h.01M66.8 193.5h.01M68.8 191.7h.01M64.4 191.3h.01" stroke="#000" stroke-opacity="0.175" stroke-width="0.75" stroke-linecap="round" fill="none"/>
<path d="M65.3 184.1h.01M69.8 186.1h.01M58.6 191.4h.01M62.2 182.1h.01M61.1 180.2h.01M65.6 185.1h.01M68.8 183.6h.01M55.8 184.8h.01M69.4 191.6h.01M65.0 181.4h.01" stroke="#000" stroke-opacity="0.21" stroke-width="0.75" stroke-linecap="round" fill="none"/>
<path d="M67.4 186.0h.01M63.2 194.4h.01M69.5 189.2h.01M60.7 183.6h.01M64.9 185.5h.01M56.5 191.0h.01M64.1 181.0h.01M59.7 181.1h.01" stroke="#000" stroke-opacity="0.21" stroke-width="0.75" stroke-linecap="round" fill="none"/>
<path d="M65.1 176.4h.01M66.3 189.7h.01M63.3 188.4h.01M71.7 189.0h.01M59.9 188.0h.01M65.1 188.6h.01M64.6 189.9h.01M61.4 188.5h.01M66.6 189.3h.01" stroke="#000" stroke-opacity="0.21" stroke-width="0.75" stroke-linecap="round" fill="none"/>
</g>
<text x="56.300000000000004" y="166.8" font-size="8.6" font-weight="bold" text-anchor="start"  class="t">13.89</text>
<text x="115.6" y="166.8" font-size="8.6" font-weight="bold" text-anchor="end"  class="t">2.06</text>
<text x="56.300000000000004" y="221.5" font-size="8.6" font-weight="bold" text-anchor="start"  class="t">82.74</text>
<text x="115.6" y="221.5" font-size="8.6" font-weight="bold" text-anchor="end"  class="t">1.30</text>
<text x="85.7" y="152.9" font-size="8.2" font-weight="bold" text-anchor="middle"  class="t">EV</text>
<clipPath id="cp2"><rect x="138.3" y="160.70000000000002" width="61.7" height="61.3"/></clipPath>
<rect x="137.9" y="160.3" width="62.5" height="62.099999999999994" fill="#fff" stroke="#8e8e8e" stroke-width="0.85"/>
<line x1="158.50" y1="160.30" x2="158.50" y2="222.40" stroke="#b0b0b0" stroke-width="0.6" />
<line x1="137.90" y1="191.70" x2="200.40" y2="191.70" stroke="#b0b0b0" stroke-width="0.6" />
<g clip-path="url(#cp2)">
<ellipse cx="186" cy="181.7" rx="5.5" ry="3.2" fill="#000" fill-opacity="0.225" filter="url(#bl1_5)" transform="rotate(0 186 181.7)"/>
<ellipse cx="146" cy="211.5" rx="7" ry="3.6" fill="#000" fill-opacity="0.275" filter="url(#bl1_5)" transform="rotate(0 146 211.5)"/>
<ellipse cx="142" cy="215" rx="4" ry="3" fill="#000" fill-opacity="0.15" filter="url(#bl1_5)" transform="rotate(0 142 215)"/>
<path d="M148.7 180.9h.01M144.0 176.2h.01M143.9 179.4h.01M153.2 182.3h.01M145.6 177.6h.01M145.3 179.8h.01M143.4 178.0h.01M149.1 178.5h.01M144.7 175.8h.01M143.6 178.0h.01M147.1 176.7h.01M143.4 178.2h.01M146.6 177.7h.01M149.2 182.2h.01" stroke="#000" stroke-opacity="0.27999999999999997" stroke-width="0.75" stroke-linecap="round" fill="none"/>
<path d="M147.9 178.6h.01M147.2 180.4h.01M144.9 180.5h.01M148.8 180.6h.01M147.7 181.9h.01M141.0 181.4h.01M149.0 181.4h.01M140.8 178.2h.01M146.8 176.7h.01M144.1 181.8h.01M144.2 178.5h.01M142.3 175.8h.01M149.9 178.7h.01" stroke="#000" stroke-opacity="0.27999999999999997" stroke-width="0.75" stroke-linecap="round" fill="none"/>
<path d="M147.1 180.9h.01M146.0 181.1h.01M151.6 179.0h.01M152.2 179.2h.01M147.9 180.3h.01M144.6 177.5h.01M141.2 181.2h.01M143.8 180.1h.01M149.2 177.3h.01M149.0 180.6h.01M142.6 180.4h.01M148.1 181.9h.01M150.3 180.0h.01M149.7 180.9h.01" stroke="#000" stroke-opacity="0.27999999999999997" stroke-width="0.75" stroke-linecap="round" fill="none"/>
<path d="M178.9 180.4h.01M176.5 185.7h.01M195.5 187.9h.01M190.8 182.0h.01M187.2 186.7h.01M183.5 183.0h.01M180.2 182.5h.01M189.5 176.5h.01M188.2 179.2h.01M183.4 182.6h.01M184.3 185.1h.01M194.1 179.1h.01M191.5 186.2h.01M184.1 179.7h.01M184.5 183.2h.01M179.8 178.3h.01M188.3 186.2h.01M182.6 180.9h.01M183.5 182.1h.01M194.8 181.9h.01M182.6 184.0h.01M192.2 182.5h.01M180.7 181.5h.01M181.2 186.9h.01M187.2 184.9h.01M188.2 178.9h.01M181.4 177.2h.01M180.7 177.6h.01M189.7 182.5h.01M181.6 177.1h.01M184.0 177.8h.01M186.2 180.3h.01M183.5 179.2h.01M184.5 184.8h.01M191.6 183.1h.01M190.4 180.1h.01M191.2 181.3h.01M186.5 182.1h.01M193.9 185.0h.01M185.7 179.7h.01M185.8 180.4h.01M185.7 189.7h.01M186.8 180.5h.01M184.4 181.8h.01M191.0 186.1h.01M179.9 185.3h.01M197.5 184.8h.01M194.6 180.9h.01M181.0 185.0h.01M189.6 181.7h.01M194.4 183.2h.01M191.0 177.2h.01M178.2 179.9h.01M180.6 178.8h.01M187.3 178.4h.01M177.4 178.5h.01M187.1 183.6h.01M181.5 183.9h.01M191.1 184.4h.01M185.1 181.6h.01M182.7 180.7h.01M191.0 174.5h.01M187.3 182.2h.01M187.4 181.1h.01M185.7 185.7h.01M183.4 182.3h.01M185.8 184.6h.01M187.6 177.0h.01M186.3 174.4h.01M189.2 183.4h.01M186.2 183.4h.01M196.3 183.3h.01M189.2 184.3h.01M182.0 182.5h.01M186.3 182.7h.01M185.5 184.9h.01M188.6 184.8h.01M195.2 184.0h.01M185.8 183.8h.01" stroke="#000" stroke-opacity="0.35" stroke-width="0.75" stroke-linecap="round" fill="none"/>
<path d="M179.5 181.4h.01M187.7 186.3h.01M185.0 182.5h.01M179.7 184.0h.01M191.2 180.3h.01M191.5 185.6h.01M187.8 189.6h.01M182.2 182.2h.01M188.1 179.7h.01M193.4 181.8h.01M180.1 183.6h.01M194.1 183.7h.01M185.5 181.3h.01M188.1 182.7h.01M192.7 178.6h.01M181.2 176.0h.01M178.6 180.7h.01M186.3 183.4h.01M180.6 181.9h.01M180.2 182.5h.01M187.8 181.4h.01M181.6 175.2h.01M187.0 181.2h.01M182.5 184.3h.01M180.8 183.5h.01M182.3 181.6h.01M184.0 184.1h.01M193.1 182.9h.01M189.0 181.8h.01M191.3 179.4h.01M184.7 179.8h.01M186.5 182.5h.01M189.6 176.8h.01M184.0 184.7h.01M188.2 182.1h.01M190.5 182.0h.01M184.2 182.5h.01M193.0 181.8h.01M186.6 182.1h.01M193.5 183.4h.01M181.0 178.2h.01M185.9 181.2h.01M183.2 186.3h.01M181.9 184.7h.01M181.7 185.1h.01M193.6 179.9h.01M183.5 176.1h.01M182.8 180.1h.01M178.1 177.8h.01M180.6 183.6h.01M189.5 175.9h.01M181.9 175.4h.01M188.3 186.6h.01M182.9 182.2h.01M193.1 184.6h.01M190.2 179.2h.01M189.0 186.1h.01M186.8 182.5h.01M186.6 179.9h.01M186.9 178.5h.01M186.0 182.6h.01M177.3 179.5h.01M182.2 179.9h.01M178.7 175.7h.01M194.2 177.8h.01M177.9 174.5h.01M184.3 179.4h.01M185.9 183.3h.01M185.7 181.3h.01M188.0 188.8h.01M194.7 185.8h.01M188.3 178.5h.01M184.7 177.9h.01M188.0 183.7h.01M181.9 187.8h.01M184.4 179.8h.01M176.7 188.9h.01" stroke="#000" stroke-opacity="0.35" stroke-width="0.75" stroke-linecap="round" fill="none"/>
<path d="M188.7 178.4h.01M179.9 185.0h.01M185.3 184.8h.01M183.8 183.6h.01M187.6 187.2h.01M188.4 177.6h.01M182.0 185.2h.01M183.7 181.2h.01M183.5 183.4h.01M185.3 184.0h.01M183.6 179.2h.01M192.7 178.7h.01M197.3 182.3h.01M186.8 187.0h.01M190.8 187.4h.01M188.1 175.9h.01M177.2 184.1h.01M184.4 181.7h.01M177.1 180.2h.01M181.5 176.6h.01M181.7 178.4h.01M179.7 189.4h.01M184.7 177.4h.01M178.2 180.9h.01M187.8 179.4h.01M173.5 181.4h.01M184.1 185.6h.01M190.3 179.1h.01M191.5 179.7h.01M181.2 178.8h.01M183.5 178.7h.01M187.6 174.9h.01M182.7 180.8h.01M179.3 176.1h.01M188.2 177.9h.01M176.9 177.7h.01M184.0 180.0h.01M194.6 187.3h.01M185.3 179.4h.01M183.9 175.8h.01M175.6 183.5h.01M192.6 182.1h.01M190.6 187.0h.01M179.6 183.5h.01M182.7 179.4h.01M182.5 180.6h.01M182.9 185.4h.01M177.3 184.5h.01M187.3 179.3h.01M189.9 175.8h.01M182.7 180.6h.01M184.9 182.8h.01M189.1 180.8h.01M185.8 186.9h.01M186.5 179.5h.01M179.9 182.3h.01M182.1 184.7h.01M190.5 181.6h.01M182.5 180.1h.01M189.5 179.0h.01M193.4 180.0h.01M186.9 183.6h.01M175.2 183.6h.01M194.5 187.1h.01M183.8 179.0h.01M186.2 182.6h.01M186.7 180.9h.01M188.4 182.3h.01M179.5 178.9h.01M183.2 181.9h.01M185.4 179.7h.01M192.5 176.9h.01M189.5 178.1h.01M184.2 180.5h.01M191.7 186.6h.01M188.2 179.3h.01M195.6 187.4h.01M182.3 182.1h.01M196.5 181.6h.01" stroke="#000" stroke-opacity="0.35" stroke-width="0.75" stroke-linecap="round" fill="none"/>
<path d="M150.0 212.8h.01M147.4 211.0h.01M149.6 207.7h.01M143.9 210.1h.01M148.5 211.8h.01M140.3 207.3h.01M145.9 207.6h.01M152.2 205.9h.01M149.3 209.3h.01M141.7 213.9h.01M152.5 215.0h.01M140.1 214.3h.01M140.1 210.3h.01M147.5 212.5h.01M145.4 208.9h.01M145.8 209.5h.01M140.4 210.8h.01M152.1 204.5h.01M152.4 212.7h.01M143.2 208.5h.01M149.3 211.4h.01M150.4 204.9h.01M144.7 208.5h.01M141.0 210.2h.01M151.6 214.3h.01M143.6 210.4h.01M145.6 213.3h.01M139.7 208.5h.01M142.1 208.3h.01M141.4 213.6h.01M140.8 209.3h.01M147.6 212.1h.01M138.6 212.5h.01M149.2 213.6h.01M149.2 207.6h.01M148.3 206.1h.01M147.2 206.7h.01M148.7 204.6h.01M145.8 208.3h.01M148.8 204.9h.01M150.7 214.7h.01M152.0 206.1h.01M148.1 211.2h.01M142.1 214.2h.01M150.6 213.1h.01M152.4 210.5h.01M144.0 210.7h.01M150.6 209.0h.01M147.8 213.0h.01M145.5 210.2h.01M150.9 211.3h.01M139.9 210.6h.01M141.7 209.2h.01M149.1 212.3h.01M147.3 211.2h.01M148.5 213.4h.01M141.6 211.7h.01M139.8 212.3h.01M142.1 217.2h.01M142.6 217.0h.01M144.4 212.5h.01M141.5 210.0h.01M144.2 212.8h.01M144.1 208.3h.01M147.9 209.6h.01M141.5 214.9h.01M142.8 210.7h.01M152.1 208.8h.01M148.4 209.9h.01M140.8 213.8h.01M151.0 217.0h.01M142.6 213.7h.01M152.3 215.1h.01M154.2 207.1h.01M144.0 208.2h.01M149.3 208.7h.01M145.7 205.8h.01M144.8 213.9h.01M150.1 207.6h.01M146.4 211.1h.01M150.8 207.7h.01M149.4 218.2h.01M146.4 204.8h.01" stroke="#000" stroke-opacity="0.35" stroke-width="0.75" stroke-linecap="round" fill="none"/>
<path d="M147.9 210.4h.01M148.2 208.3h.01M148.7 214.4h.01M150.3 216.3h.01M141.8 208.3h.01M149.1 207.1h.01M146.2 209.9h.01M145.6 211.0h.01M150.3 216.9h.01M152.8 211.5h.01M150.7 205.3h.01M156.3 214.1h.01M145.5 210.8h.01M146.5 217.1h.01M153.5 211.9h.01M152.1 207.5h.01M146.0 212.6h.01M150.6 214.7h.01M142.3 212.9h.01M147.3 208.1h.01M150.3 204.4h.01M158.2 209.7h.01M144.6 210.6h.01M155.3 210.5h.01M147.5 210.5h.01M150.6 210.4h.01M152.5 210.3h.01M148.5 212.3h.01M152.1 213.5h.01M149.0 216.1h.01M145.1 213.2h.01M151.3 211.5h.01M143.2 220.3h.01M150.4 208.7h.01M149.4 212.7h.01M141.8 214.6h.01M145.9 205.6h.01M148.8 210.3h.01M142.5 208.7h.01M141.4 213.3h.01M140.9 210.7h.01M144.6 210.2h.01M149.9 210.6h.01M140.9 209.1h.01M140.3 210.2h.01M139.0 216.9h.01M141.1 213.1h.01M139.7 212.3h.01M148.7 213.7h.01M152.8 208.3h.01M148.9 213.4h.01M141.7 207.4h.01M138.7 213.6h.01M150.3 207.6h.01M145.7 215.7h.01M148.7 212.5h.01M147.1 208.2h.01M155.6 215.7h.01M156.8 214.0h.01M146.5 212.0h.01M148.3 208.6h.01M146.7 214.3h.01M150.7 210.8h.01M144.9 211.6h.01M148.0 213.6h.01M151.0 215.6h.01M143.9 211.3h.01M143.9 212.7h.01M140.0 210.3h.01M142.4 209.6h.01M143.2 215.2h.01M145.9 212.1h.01M145.4 214.2h.01M149.3 213.1h.01M140.0 213.1h.01M144.2 209.4h.01M147.9 211.3h.01M150.9 212.0h.01M145.7 208.5h.01M151.0 206.4h.01M150.2 212.0h.01M146.5 209.6h.01M146.1 212.4h.01" stroke="#000" stroke-opacity="0.35" stroke-width="0.75" stroke-linecap="round" fill="none"/>
<path d="M145.9 208.3h.01M146.7 211.2h.01M149.6 210.0h.01M145.7 208.8h.01M146.0 213.2h.01M147.1 212.2h.01M148.2 208.4h.01M151.5 209.3h.01M144.4 212.3h.01M140.6 211.9h.01M143.0 215.4h.01M152.3 210.3h.01M150.1 210.8h.01M148.8 211.4h.01M140.9 208.8h.01M149.1 211.6h.01M144.2 211.8h.01M146.4 209.0h.01M149.9 207.8h.01M146.8 214.0h.01M150.5 205.4h.01M146.5 214.4h.01M140.9 212.2h.01M153.3 209.6h.01M143.9 208.8h.01M143.6 209.1h.01M143.9 215.3h.01M145.8 214.6h.01M145.1 214.1h.01M150.3 207.4h.01M140.1 211.6h.01M147.6 214.9h.01M149.0 209.3h.01M144.0 216.3h.01M151.3 212.5h.01M154.7 210.2h.01M139.0 206.3h.01M146.9 207.3h.01M146.8 210.8h.01M141.6 209.2h.01M141.0 211.7h.01M143.1 212.7h.01M148.3 213.7h.01M150.5 209.9h.01M154.4 208.8h.01M144.5 207.9h.01M143.7 207.2h.01M151.3 211.2h.01M156.1 210.8h.01M153.3 202.4h.01M140.4 210.3h.01M143.7 215.5h.01M144.8 209.0h.01M146.6 209.5h.01M139.4 206.7h.01M145.5 207.9h.01M142.3 209.2h.01M155.8 208.9h.01M145.8 208.7h.01M146.6 213.0h.01M144.1 210.2h.01M153.4 215.7h.01M146.6 211.9h.01M149.9 212.6h.01M147.5 209.2h.01M149.8 219.0h.01M145.4 208.5h.01M143.7 209.4h.01M145.4 216.5h.01M144.8 211.8h.01M151.7 214.0h.01M145.1 213.1h.01M154.1 208.4h.01M154.2 212.4h.01M145.3 208.6h.01M155.1 216.3h.01M148.3 213.0h.01M144.4 209.3h.01M139.3 212.5h.01M146.2 211.9h.01M153.6 215.2h.01M144.7 207.8h.01" stroke="#000" stroke-opacity="0.35" stroke-width="0.75" stroke-linecap="round" fill="none"/>
<path d="M184.9 208.7h.01M173.6 207.2h.01M181.6 209.2h.01M177.9 214.5h.01M184.2 211.2h.01M175.9 204.8h.01M184.1 208.7h.01M172.5 215.7h.01M172.6 207.7h.01M175.7 211.9h.01M175.5 210.6h.01M179.4 210.2h.01M186.8 209.4h.01M177.7 209.9h.01M175.7 207.8h.01M181.4 207.4h.01M184.1 215.5h.01M181.1 207.2h.01M178.6 211.0h.01M191.5 205.1h.01M176.2 209.3h.01" stroke="#000" stroke-opacity="0.24499999999999997" stroke-width="0.75" stroke-linecap="round" fill="none"/>
<path d="M187.5 207.7h.01M188.0 211.9h.01M178.6 208.9h.01M187.6 209.0h.01M174.8 211.3h.01M178.9 212.7h.01M174.4 217.1h.01M168.0 208.2h.01M179.7 203.2h.01M183.4 211.1h.01M175.2 213.6h.01M189.3 209.7h.01M184.3 212.6h.01M186.7 207.5h.01M178.6 212.0h.01M182.1 214.7h.01M183.7 204.8h.01M172.9 213.4h.01M170.2 207.9h.01M170.9 210.1h.01M177.0 208.0h.01" stroke="#000" stroke-opacity="0.24499999999999997" stroke-width="0.75" stroke-linecap="round" fill="none"/>
<path d="M177.6 203.2h.01M171.5 211.9h.01M175.1 203.8h.01M173.8 209.3h.01M177.2 211.8h.01M171.5 209.6h.01M183.8 213.6h.01M183.2 214.7h.01M182.5 212.0h.01M181.8 215.3h.01M175.9 211.7h.01M187.4 212.9h.01M174.6 210.9h.01M167.9 203.9h.01M189.5 211.1h.01M186.9 203.2h.01M176.6 212.0h.01M170.1 215.0h.01M182.8 204.9h.01M181.5 212.5h.01" stroke="#000" stroke-opacity="0.24499999999999997" stroke-width="0.75" stroke-linecap="round" fill="none"/>
<path d="M140.3 209.2h.01M169.8 199.3h.01M166.3 214.4h.01M158.7 183.8h.01M159.8 196.4h.01" stroke="#000" stroke-opacity="0.175" stroke-width="0.75" stroke-linecap="round" fill="none"/>
<path d="M172.9 201.5h.01M182.7 183.5h.01M157.5 199.0h.01M175.9 196.6h.01M171.7 204.0h.01" stroke="#000" stroke-opacity="0.175" stroke-width="0.75" stroke-linecap="round" fill="none"/>
<path d="M162.7 202.4h.01M172.9 189.8h.01M163.2 209.1h.01M166.3 210.4h.01" stroke="#000" stroke-opacity="0.175" stroke-width="0.75" stroke-linecap="round" fill="none"/>
<path d="M142.5 207.0h.01M151.8 203.0h.01M143.1 207.7h.01M139.2 209.2h.01M151.3 206.2h.01M140.4 202.8h.01M152.6 207.9h.01M138.7 204.3h.01M143.3 203.4h.01" stroke="#000" stroke-opacity="0.21" stroke-width="0.75" stroke-linecap="round" fill="none"/>
<path d="M155.8 202.8h.01M145.7 203.0h.01M150.5 203.0h.01M148.2 204.3h.01M140.4 206.8h.01M147.4 205.2h.01M145.0 205.3h.01M146.0 207.9h.01M143.4 204.6h.01" stroke="#000" stroke-opacity="0.21" stroke-width="0.75" stroke-linecap="round" fill="none"/>
<path d="M154.0 197.9h.01M141.9 200.3h.01M142.5 202.0h.01M142.6 201.1h.01M139.7 205.8h.01M149.9 201.6h.01M141.3 203.6h.01M149.5 206.3h.01" stroke="#000" stroke-opacity="0.21" stroke-width="0.75" stroke-linecap="round" fill="none"/>
</g>
<text x="139.5" y="166.8" font-size="8.6" font-weight="bold" text-anchor="start"  class="t">3.60</text>
<text x="199.0" y="166.8" font-size="8.6" font-weight="bold" text-anchor="end"  class="t">18.11</text>
<text x="139.5" y="221.5" font-size="8.6" font-weight="bold" text-anchor="start"  class="t">70.16</text>
<text x="199.0" y="221.5" font-size="8.6" font-weight="bold" text-anchor="end"  class="t">8.14</text>
<text x="169.7" y="152.9" font-size="8.3" font-weight="bold" text-anchor="middle"  class="t">CTC28</text>
<path d="M41.3 161.3 L46.0 169.70000000000002 L43.099999999999994 169.70000000000002 L43.099999999999994 177.6 L39.5 177.6 L39.5 169.70000000000002 L36.599999999999994 169.70000000000002 Z" fill="#000"/>
<text x="42.9" y="192.6" font-size="8.8" font-weight="bold" text-anchor="middle" transform="rotate(-90 42.9 192.6)"  class="t">CD4</text>
<rect x="39.55" y="207.3" width="3.5" height="11.199999999999989" fill="#000"/>
<rect x="55.4" y="234.1" width="54.300000000000004" height="3.2" fill="#000"/>
<text x="128" y="237.89999999999998" font-size="8.3" font-weight="bold" text-anchor="middle" letter-spacing="0.5" class="t">GFP</text>
<path d="M145.3 234.1 L189.7 234.1 L189.7 231.0 L199.2 235.7 L189.7 240.39999999999998 L189.7 237.29999999999998 L145.3 237.29999999999998 Z" fill="#000"/>
<clipPath id="cp3"><rect x="283.5" y="160.70000000000002" width="61.29999999999997" height="61.3"/></clipPath>
<rect x="283.1" y="160.3" width="62.099999999999966" height="62.099999999999994" fill="#fff" stroke="#8e8e8e" stroke-width="0.85"/>
<line x1="303.80" y1="160.30" x2="303.80" y2="222.40" stroke="#b0b0b0" stroke-width="0.6" />
<line x1="283.10" y1="197.70" x2="345.20" y2="197.70" stroke="#b0b0b0" stroke-width="0.6" />
<g clip-path="url(#cp3)">
<ellipse cx="291.4" cy="186.5" rx="5.5" ry="3.3" fill="#000" fill-opacity="0.2" filter="url(#bl1_5)" transform="rotate(0 291.4 186.5)"/>
<ellipse cx="289" cy="212" rx="6" ry="7" fill="#000" fill-opacity="0.275" filter="url(#bl1_5)" transform="rotate(0 289 212)"/>
<ellipse cx="288" cy="214.5" rx="3.5" ry="4.5" fill="#000" fill-opacity="0.2" filter="url(#bl1_5)" transform="rotate(0 288 214.5)"/>
<path d="M291.5 185.0h.01M289.3 187.7h.01M291.6 185.5h.01M292.3 189.0h.01M295.3 183.7h.01M287.3 190.8h.01M290.5 179.2h.01M283.8 184.9h.01M293.1 189.6h.01M297.5 189.9h.01M289.6 187.6h.01M292.1 186.3h.01M291.8 185.7h.01M288.8 186.8h.01M294.9 187.7h.01M293.4 189.0h.01M297.2 186.6h.01M293.8 187.0h.01M291.0 190.4h.01M284.4 184.6h.01M289.1 188.4h.01M288.9 191.3h.01M287.1 185.5h.01M287.2 186.8h.01M300.3 186.8h.01M292.2 187.5h.01M295.1 185.5h.01M296.0 187.9h.01M293.2 188.5h.01M284.4 182.9h.01M290.0 185.8h.01M293.5 189.9h.01M288.0 190.9h.01M295.7 187.6h.01M288.6 185.2h.01M292.9 186.4h.01M292.8 187.9h.01M285.7 185.5h.01M291.2 184.2h.01M293.1 178.3h.01M291.8 186.8h.01M294.6 186.4h.01M296.2 187.8h.01M293.0 188.0h.01M292.0 184.3h.01M292.9 183.3h.01M297.2 188.2h.01M291.0 189.7h.01M287.2 195.7h.01M293.8 184.8h.01" stroke="#000" stroke-opacity="0.35" stroke-width="0.75" stroke-linecap="round" fill="none"/>
<path d="M298.4 186.2h.01M296.9 185.5h.01M291.7 189.4h.01M290.2 183.5h.01M299.1 183.5h.01M287.9 181.4h.01M291.2 185.6h.01M299.0 191.0h.01M294.5 183.1h.01M293.6 190.0h.01M295.3 183.9h.01M290.0 187.9h.01M294.8 191.5h.01M293.9 184.0h.01M293.4 192.7h.01M285.7 187.3h.01M290.9 187.0h.01M289.7 184.4h.01M296.7 182.8h.01M293.9 180.7h.01M291.1 182.9h.01M295.1 187.5h.01M291.5 188.7h.01M286.8 187.4h.01M290.2 188.9h.01M296.5 184.6h.01M286.7 190.6h.01M294.2 185.1h.01M290.5 184.5h.01M289.7 184.9h.01M294.7 180.8h.01M295.9 183.5h.01M288.7 184.0h.01M297.3 187.7h.01M290.7 186.6h.01M286.1 183.3h.01M291.6 185.2h.01M285.3 185.0h.01M289.6 181.6h.01M288.0 187.2h.01M285.1 187.2h.01M291.5 185.2h.01M288.8 185.9h.01M290.6 179.8h.01M296.5 186.1h.01M287.1 192.3h.01M284.2 190.0h.01M297.2 185.1h.01M291.7 188.5h.01M292.6 190.3h.01M291.5 180.9h.01M294.9 190.4h.01M293.7 192.5h.01" stroke="#000" stroke-opacity="0.35" stroke-width="0.75" stroke-linecap="round" fill="none"/>
<path d="M298.0 189.9h.01M291.8 184.9h.01M297.3 186.9h.01M296.1 183.8h.01M295.0 190.8h.01M294.4 188.5h.01M289.8 185.7h.01M289.9 184.4h.01M292.1 186.9h.01M289.7 190.9h.01M288.4 181.4h.01M289.5 183.8h.01M295.6 183.5h.01M290.3 186.0h.01M288.3 188.3h.01M290.6 190.0h.01M292.6 186.5h.01M287.2 183.3h.01M297.6 184.8h.01M288.7 184.4h.01M285.6 194.5h.01M290.0 187.8h.01M288.0 185.4h.01M290.6 182.7h.01M293.8 187.4h.01M291.4 187.1h.01M289.0 187.7h.01M290.3 178.8h.01M290.1 187.9h.01M294.1 185.5h.01M289.7 184.0h.01M288.8 189.5h.01M296.5 184.8h.01M290.5 187.7h.01M293.2 183.6h.01M288.2 184.9h.01M292.0 184.0h.01M292.0 183.7h.01M293.7 186.8h.01M295.3 185.4h.01M292.0 187.1h.01M288.7 184.4h.01M297.0 189.6h.01M296.7 187.9h.01M291.9 188.8h.01M291.8 182.2h.01M296.3 191.5h.01M290.6 189.1h.01M287.4 184.6h.01" stroke="#000" stroke-opacity="0.35" stroke-width="0.75" stroke-linecap="round" fill="none"/>
<path d="M283.9 219.3h.01M289.2 212.7h.01M294.3 219.2h.01M287.4 212.7h.01M293.7 216.1h.01M294.4 219.1h.01M293.5 208.9h.01M289.1 215.1h.01M284.2 215.5h.01M286.0 214.5h.01M287.2 213.2h.01M289.3 219.5h.01M294.3 203.0h.01M285.7 205.7h.01M293.1 206.0h.01M289.3 205.8h.01M287.6 206.9h.01M290.0 214.7h.01M290.9 207.6h.01M294.5 200.6h.01M290.6 208.8h.01M291.5 204.8h.01M287.7 205.5h.01M287.5 206.5h.01M288.8 212.2h.01M288.7 206.9h.01M288.5 212.8h.01M292.4 209.8h.01M288.6 213.5h.01M296.3 205.8h.01M292.3 206.4h.01M286.8 204.8h.01M297.7 216.5h.01M296.6 214.5h.01M286.4 217.5h.01M288.0 215.6h.01M293.5 213.1h.01M290.0 213.3h.01M285.4 208.7h.01M293.6 213.1h.01M288.5 210.1h.01M295.2 208.0h.01M288.5 215.3h.01M291.3 213.0h.01M298.7 214.4h.01M286.8 210.3h.01M293.8 196.0h.01M290.5 218.7h.01M288.4 208.9h.01M295.2 208.9h.01M291.5 210.4h.01M291.8 213.2h.01M290.6 210.8h.01M288.6 210.0h.01M293.3 220.7h.01M295.4 216.3h.01M287.9 208.5h.01M293.5 206.8h.01M284.7 211.3h.01M291.7 215.2h.01M291.1 210.0h.01M289.1 209.5h.01M283.9 205.5h.01M290.1 211.1h.01M289.8 220.9h.01M290.6 215.4h.01M291.7 219.2h.01M287.8 214.3h.01M295.1 199.5h.01M285.0 208.2h.01M295.5 209.8h.01M291.6 203.0h.01M284.0 202.5h.01M295.3 211.7h.01M285.1 207.6h.01M286.5 208.2h.01M284.7 202.6h.01M291.1 215.7h.01M292.7 211.2h.01M294.6 215.9h.01M295.3 206.2h.01M284.7 218.0h.01M294.4 207.7h.01M286.9 204.7h.01M289.5 209.9h.01M293.6 217.6h.01M286.9 207.8h.01M296.7 210.4h.01M287.6 202.9h.01M290.8 206.3h.01M289.3 208.0h.01M302.0 208.4h.01M287.2 217.1h.01M293.3 210.5h.01M283.8 203.9h.01M285.4 210.6h.01M292.5 204.9h.01M295.2 214.6h.01M292.8 214.7h.01M290.3 205.8h.01M291.1 206.4h.01M284.3 200.6h.01M289.7 204.7h.01M289.2 213.6h.01M289.9 214.0h.01M288.9 209.4h.01M292.1 215.1h.01" stroke="#000" stroke-opacity="0.35" stroke-width="0.75" stroke-linecap="round" fill="none"/>
<path d="M291.6 208.7h.01M299.8 221.6h.01M292.0 213.5h.01M287.3 199.8h.01M289.0 210.0h.01M304.7 213.7h.01M293.0 216.1h.01M287.1 211.5h.01M289.3 213.7h.01M289.0 212.1h.01M284.3 196.2h.01M290.0 211.5h.01M286.8 214.5h.01M290.8 210.5h.01M288.3 205.9h.01M285.2 206.2h.01M295.0 208.4h.01M293.9 221.0h.01M290.5 210.2h.01M291.7 215.1h.01M287.4 212.2h.01M285.8 210.9h.01M291.5 218.7h.01M287.8 215.4h.01M291.1 217.3h.01M285.0 213.5h.01M291.2 206.5h.01M297.3 209.9h.01M289.7 205.8h.01M296.1 212.7h.01M285.6 203.1h.01M290.5 201.6h.01M291.2 213.0h.01M288.1 205.0h.01M298.7 211.4h.01M304.5 212.2h.01M293.5 205.8h.01M295.5 203.7h.01M284.8 210.2h.01M290.6 207.8h.01M284.5 210.3h.01M287.5 220.3h.01M290.8 209.8h.01M291.3 205.0h.01M291.0 208.7h.01M292.1 197.6h.01M288.4 208.4h.01M288.5 215.6h.01M293.3 208.8h.01M288.5 212.4h.01M294.1 215.1h.01M290.7 208.9h.01M288.3 216.7h.01M286.8 217.0h.01M288.9 213.6h.01M284.9 207.9h.01M293.9 217.1h.01M290.8 213.6h.01M293.7 215.9h.01M291.1 217.1h.01M294.4 212.6h.01M286.3 209.5h.01M289.7 219.3h.01M291.3 206.6h.01M294.3 209.3h.01M288.3 208.5h.01M291.5 199.0h.01M294.5 203.1h.01M296.8 209.6h.01M296.3 206.1h.01M293.5 202.5h.01M291.8 210.5h.01M289.9 215.3h.01M286.4 203.1h.01M298.2 207.6h.01M285.9 218.1h.01M291.9 211.8h.01M287.7 215.0h.01M292.9 213.9h.01M295.0 217.5h.01M294.1 210.1h.01M284.9 215.7h.01M290.9 208.5h.01M293.4 206.2h.01M295.7 215.2h.01M286.2 207.3h.01M288.3 214.3h.01M288.1 210.7h.01M289.8 206.7h.01M292.0 203.3h.01M289.0 214.9h.01M293.3 216.9h.01M288.9 213.3h.01M291.2 216.1h.01M292.5 214.3h.01M288.4 214.6h.01M289.6 206.8h.01M286.8 208.2h.01M289.7 202.8h.01M297.2 208.0h.01M292.5 215.4h.01M286.3 204.9h.01M291.8 200.7h.01M298.1 204.1h.01M294.8 218.1h.01M291.8 207.1h.01M294.6 213.8h.01" stroke="#000" stroke-opacity="0.35" stroke-width="0.75" stroke-linecap="round" fill="none"/>
<path d="M300.1 197.3h.01M300.5 212.3h.01M288.6 209.2h.01M290.8 211.3h.01M285.9 211.4h.01M292.8 219.5h.01M286.0 216.9h.01M295.5 205.2h.01M295.2 213.4h.01M286.7 203.7h.01M295.1 204.9h.01M285.8 215.2h.01M290.3 214.2h.01M288.0 206.7h.01M297.8 211.6h.01M290.2 219.6h.01M290.7 219.4h.01M283.9 210.6h.01M293.2 214.8h.01M289.7 208.2h.01M286.4 215.3h.01M292.4 212.8h.01M290.6 209.3h.01M291.3 203.7h.01M288.5 206.8h.01M284.6 216.5h.01M284.4 217.7h.01M284.1 213.0h.01M284.1 214.0h.01M288.3 212.5h.01M292.1 214.3h.01M289.6 204.0h.01M296.7 214.5h.01M291.4 209.2h.01M288.9 216.0h.01M284.3 211.1h.01M291.9 208.0h.01M283.9 213.0h.01M295.1 207.9h.01M285.4 209.5h.01M291.7 204.2h.01M294.5 213.7h.01M286.9 209.4h.01M286.0 203.8h.01M292.5 209.6h.01M296.7 214.6h.01M285.7 209.0h.01M291.1 208.7h.01M284.3 217.2h.01M288.8 205.4h.01M304.3 202.5h.01M289.5 204.7h.01M284.4 207.3h.01M291.5 208.1h.01M289.6 221.1h.01M287.4 210.6h.01M295.4 213.0h.01M286.6 216.0h.01M284.8 221.2h.01M291.3 209.5h.01M292.7 217.7h.01M290.3 214.4h.01M301.4 212.8h.01M290.6 221.1h.01M285.4 211.0h.01M290.9 211.3h.01M291.6 205.5h.01M287.7 212.9h.01M288.0 214.1h.01M298.4 211.3h.01M289.6 203.3h.01M296.1 216.6h.01M289.4 208.4h.01M294.0 202.4h.01M292.4 208.0h.01M298.1 209.5h.01M286.0 212.6h.01M287.7 212.9h.01M294.1 202.7h.01M291.5 205.9h.01M287.9 205.5h.01M298.5 214.3h.01M295.2 209.6h.01M289.4 211.5h.01M289.5 216.9h.01M298.4 215.4h.01M295.8 205.6h.01M299.6 207.9h.01M284.5 209.8h.01M291.6 209.1h.01M288.1 216.9h.01M292.6 210.2h.01M285.6 215.0h.01M289.8 205.0h.01M289.7 209.8h.01M289.1 215.8h.01M284.4 204.9h.01M286.8 216.4h.01M294.2 213.9h.01M284.1 215.8h.01M293.8 218.5h.01M289.1 200.8h.01M287.5 203.8h.01M289.0 215.5h.01M291.0 206.3h.01M296.5 211.7h.01" stroke="#000" stroke-opacity="0.35" stroke-width="0.75" stroke-linecap="round" fill="none"/>
<path d="M306.6 183.9h.01M316.4 183.7h.01M326.4 192.5h.01M332.5 186.7h.01M314.2 184.2h.01M338.2 185.8h.01M317.2 186.3h.01M318.8 187.9h.01M312.4 185.6h.01M309.0 184.0h.01M319.5 180.5h.01" stroke="#000" stroke-opacity="0.21" stroke-width="0.75" stroke-linecap="round" fill="none"/>
<path d="M338.4 187.6h.01M316.3 190.0h.01M326.0 181.9h.01M319.1 186.6h.01M310.0 185.6h.01M329.8 185.2h.01M308.9 187.5h.01M316.0 187.6h.01M326.5 191.2h.01M336.7 185.0h.01" stroke="#000" stroke-opacity="0.21" stroke-width="0.75" stroke-linecap="round" fill="none"/>
<path d="M326.9 187.6h.01M325.2 192.1h.01M337.3 187.2h.01M312.1 181.9h.01M324.7 193.0h.01M325.5 185.9h.01M319.4 182.3h.01M327.0 191.4h.01M324.3 188.6h.01M341.2 183.5h.01" stroke="#000" stroke-opacity="0.21" stroke-width="0.75" stroke-linecap="round" fill="none"/>
<path d="M328.6 208.4h.01M324.0 211.4h.01M328.4 208.2h.01M327.0 208.9h.01M334.3 203.7h.01M317.4 209.2h.01M320.6 203.2h.01M329.2 202.6h.01M323.9 209.1h.01M330.7 205.0h.01M315.3 211.4h.01M331.4 209.3h.01M317.8 207.1h.01M318.0 210.8h.01M321.9 206.4h.01M325.9 216.5h.01M317.4 207.1h.01M326.5 208.4h.01M332.9 205.0h.01M324.6 207.4h.01M328.6 210.5h.01" stroke="#000" stroke-opacity="0.23099999999999998" stroke-width="0.75" stroke-linecap="round" fill="none"/>
<path d="M337.4 206.0h.01M329.2 210.9h.01M316.0 215.5h.01M330.9 211.1h.01M312.6 212.4h.01M325.8 210.4h.01M331.4 206.6h.01M325.2 208.9h.01M330.0 203.1h.01M329.7 208.5h.01M325.8 210.4h.01M327.5 209.3h.01M322.2 209.6h.01M319.7 206.0h.01M333.4 211.2h.01M325.4 211.2h.01M327.3 208.3h.01M325.4 214.9h.01M328.9 206.6h.01M334.6 205.5h.01M333.5 209.5h.01" stroke="#000" stroke-opacity="0.23099999999999998" stroke-width="0.75" stroke-linecap="round" fill="none"/>
<path d="M322.9 205.2h.01M330.0 207.2h.01M326.9 205.2h.01M305.0 215.0h.01M326.7 209.1h.01M338.6 206.0h.01M323.8 206.2h.01M326.4 211.8h.01M322.6 209.3h.01M314.9 207.0h.01M329.8 205.9h.01M316.2 211.7h.01M324.2 207.9h.01M325.1 212.6h.01M322.6 208.6h.01M327.4 203.0h.01M336.1 205.1h.01M326.3 212.3h.01M325.2 209.0h.01M329.1 212.2h.01" stroke="#000" stroke-opacity="0.23099999999999998" stroke-width="0.75" stroke-linecap="round" fill="none"/>
<path d="M306.3 188.6h.01M287.7 199.8h.01M291.2 198.1h.01M301.3 187.2h.01M293.4 201.7h.01M294.5 184.5h.01" stroke="#000" stroke-opacity="0.175" stroke-width="0.75" stroke-linecap="round" fill="none"/>
<path d="M307.7 200.2h.01M287.1 192.0h.01M295.4 200.6h.01M293.0 201.1h.01M303.5 198.5h.01M297.6 197.0h.01" stroke="#000" stroke-opacity="0.175" stroke-width="0.75" stroke-linecap="round" fill="none"/>
<path d="M285.5 194.9h.01M297.8 201.3h.01M296.0 198.2h.01M293.6 195.6h.01M294.4 202.8h.01" stroke="#000" stroke-opacity="0.175" stroke-width="0.75" stroke-linecap="round" fill="none"/>
<path d="M313.1 206.3h.01M320.2 198.8h.01M306.9 198.6h.01" stroke="#000" stroke-opacity="0.175" stroke-width="0.75" stroke-linecap="round" fill="none"/>
<path d="M320.5 194.4h.01M325.3 202.2h.01M306.2 207.6h.01" stroke="#000" stroke-opacity="0.175" stroke-width="0.75" stroke-linecap="round" fill="none"/>
<path d="M293.9 182.8h.01M314.3 187.4h.01" stroke="#000" stroke-opacity="0.175" stroke-width="0.75" stroke-linecap="round" fill="none"/>
</g>
<text x="284.70000000000005" y="166.8" font-size="8.6" font-weight="bold" text-anchor="start"  class="t">6.65</text>
<text x="343.8" y="166.8" font-size="8.6" font-weight="bold" text-anchor="end"  class="t">0.95</text>
<text x="284.70000000000005" y="221.5" font-size="8.6" font-weight="bold" text-anchor="start"  class="t">89.98</text>
<text x="343.8" y="221.5" font-size="8.6" font-weight="bold" text-anchor="end"  class="t">2.41</text>
<text x="312.5" y="153.5" font-size="8.6" font-weight="bold" text-anchor="middle"  class="t">EV</text>
<clipPath id="cp4"><rect x="366.7" y="160.70000000000002" width="61.500000000000014" height="61.3"/></clipPath>
<rect x="366.3" y="160.3" width="62.30000000000001" height="62.099999999999994" fill="#fff" stroke="#8e8e8e" stroke-width="0.85"/>
<line x1="386.70" y1="160.30" x2="386.70" y2="222.40" stroke="#b0b0b0" stroke-width="0.6" />
<line x1="366.30" y1="198.10" x2="428.60" y2="198.10" stroke="#b0b0b0" stroke-width="0.6" />
<g clip-path="url(#cp4)">
<ellipse cx="374" cy="190.6" rx="5" ry="4.5" fill="#000" fill-opacity="0.175" filter="url(#bl1_5)" transform="rotate(0 374 190.6)"/>
<ellipse cx="409.5" cy="189.4" rx="8" ry="3.3" fill="#000" fill-opacity="0.15" filter="url(#bl1_5)" transform="rotate(0 409.5 189.4)"/>
<ellipse cx="374" cy="213.5" rx="7.5" ry="7.5" fill="#000" fill-opacity="0.3" filter="url(#bl1_5)" transform="rotate(0 374 213.5)"/>
<ellipse cx="372" cy="215.5" rx="4.5" ry="5" fill="#000" fill-opacity="0.175" filter="url(#bl1_5)" transform="rotate(0 372 215.5)"/>
<ellipse cx="413" cy="206.3" rx="9" ry="3.8" fill="#000" fill-opacity="0.25" filter="url(#bl1_5)" transform="rotate(-15 413 206.3)"/>
<path d="M368.3 183.4h.01M373.8 189.6h.01M378.4 199.3h.01M371.8 193.5h.01M380.6 187.8h.01M374.0 194.7h.01M370.5 196.6h.01M380.4 195.2h.01M376.5 190.1h.01M371.8 199.1h.01M376.1 194.4h.01M374.0 193.7h.01M380.0 189.3h.01M373.5 192.0h.01M377.8 193.6h.01M374.9 192.3h.01M373.7 188.8h.01M375.5 188.1h.01M376.8 190.8h.01M372.6 188.5h.01M370.8 186.4h.01M381.6 198.1h.01M374.0 194.4h.01M373.1 194.4h.01M370.9 193.1h.01M369.8 184.1h.01M367.4 192.2h.01M374.6 194.9h.01M379.0 188.6h.01M381.6 183.1h.01M374.2 193.0h.01M378.2 188.6h.01M375.8 196.3h.01M374.3 191.1h.01M373.7 185.6h.01M378.8 196.3h.01M376.2 189.1h.01M374.2 191.7h.01M374.5 195.1h.01M371.8 188.7h.01M375.6 200.7h.01M378.1 191.2h.01M373.8 195.0h.01M381.9 197.6h.01M375.1 189.7h.01M378.1 189.1h.01M373.1 193.8h.01M378.5 184.7h.01M370.9 186.1h.01M382.2 194.5h.01M374.3 194.4h.01M370.5 187.4h.01M371.0 184.9h.01M374.5 194.8h.01M376.5 188.9h.01M376.1 192.6h.01M370.3 192.9h.01M369.9 195.5h.01" stroke="#000" stroke-opacity="0.315" stroke-width="0.75" stroke-linecap="round" fill="none"/>
<path d="M373.2 183.5h.01M370.5 183.5h.01M367.7 192.8h.01M377.9 193.0h.01M381.2 179.6h.01M377.1 191.0h.01M375.4 182.3h.01M371.6 195.8h.01M367.9 189.5h.01M369.8 180.9h.01M377.3 190.9h.01M371.5 184.9h.01M380.5 191.7h.01M368.7 187.4h.01M374.7 190.9h.01M380.4 189.4h.01M372.6 194.5h.01M377.6 189.1h.01M378.8 184.9h.01M376.1 189.3h.01M375.2 192.0h.01M374.3 192.0h.01M369.5 195.4h.01M371.9 190.3h.01M374.3 187.8h.01M370.9 187.1h.01M374.1 191.6h.01M375.8 191.7h.01M375.2 191.6h.01M376.7 191.8h.01M375.3 189.1h.01M376.0 188.5h.01M373.8 189.0h.01M372.6 192.1h.01M371.0 186.7h.01M374.5 195.3h.01M380.7 188.4h.01M374.8 195.9h.01M371.8 191.4h.01M368.7 194.1h.01M375.5 188.3h.01M372.1 194.3h.01M378.2 197.0h.01M367.7 188.2h.01M375.4 192.4h.01M374.3 193.0h.01M369.5 183.9h.01M383.0 193.4h.01M382.5 188.9h.01M371.1 186.7h.01M376.9 182.5h.01M371.5 189.5h.01M367.6 189.7h.01M370.4 184.3h.01M372.4 188.6h.01M376.8 189.9h.01M373.6 186.8h.01M374.7 193.7h.01M379.0 193.1h.01M371.5 191.6h.01" stroke="#000" stroke-opacity="0.315" stroke-width="0.75" stroke-linecap="round" fill="none"/>
<path d="M381.0 186.6h.01M373.9 194.0h.01M380.2 189.9h.01M374.1 187.4h.01M381.3 184.7h.01M375.5 185.9h.01M370.4 194.3h.01M376.5 192.1h.01M371.2 178.8h.01M373.8 183.9h.01M374.8 193.6h.01M368.6 187.0h.01M372.5 192.3h.01M372.9 197.4h.01M372.3 186.6h.01M374.5 189.7h.01M372.3 187.8h.01M370.9 186.1h.01M378.2 190.2h.01M382.4 191.3h.01M378.9 196.0h.01M374.1 197.7h.01M375.0 193.2h.01M374.9 189.7h.01M372.0 191.3h.01M371.4 190.9h.01M370.9 194.0h.01M373.8 185.5h.01M378.9 188.9h.01M376.9 192.2h.01M370.4 191.6h.01M378.9 190.1h.01M378.8 191.3h.01M369.1 187.0h.01M376.6 187.6h.01M375.4 189.6h.01M376.6 196.8h.01M384.4 191.4h.01M378.7 190.6h.01M370.5 195.6h.01M379.9 190.6h.01M376.1 192.9h.01M368.4 189.9h.01M369.9 188.4h.01M377.3 189.8h.01M374.6 191.1h.01M369.4 193.0h.01M376.4 192.6h.01M376.7 190.0h.01M372.8 187.7h.01M380.3 193.5h.01M378.9 190.9h.01M381.3 188.8h.01M370.2 184.8h.01M376.3 191.1h.01M379.3 188.7h.01" stroke="#000" stroke-opacity="0.315" stroke-width="0.75" stroke-linecap="round" fill="none"/>
<path d="M408.3 189.5h.01M410.8 183.5h.01M413.2 194.4h.01M417.3 184.3h.01M408.7 187.0h.01M414.2 189.5h.01M420.9 194.2h.01M406.6 192.3h.01M411.0 190.6h.01M408.7 186.6h.01M413.1 190.0h.01M412.9 184.1h.01M413.3 184.2h.01M412.2 190.9h.01M409.1 192.6h.01M410.5 191.9h.01M411.1 192.0h.01M411.1 183.6h.01M405.3 193.9h.01M405.8 189.2h.01M415.1 191.9h.01M410.0 187.9h.01M407.2 187.5h.01M404.6 191.8h.01M400.6 190.6h.01M414.5 191.9h.01M410.4 186.1h.01M414.6 190.2h.01M413.6 192.7h.01M404.2 190.7h.01M408.9 194.5h.01M405.2 187.8h.01M415.2 196.7h.01M409.3 192.9h.01M414.5 193.9h.01M415.0 186.3h.01M415.0 188.6h.01M405.2 191.4h.01M401.7 191.7h.01M416.1 180.5h.01M406.0 186.9h.01M412.1 186.8h.01M419.4 187.5h.01M402.7 188.4h.01M410.8 192.2h.01M410.8 187.3h.01M403.1 190.1h.01M415.3 187.3h.01M406.7 188.7h.01M397.9 192.6h.01M419.2 188.2h.01M400.1 191.4h.01M411.0 186.6h.01M424.6 182.9h.01M411.1 191.9h.01M399.8 189.4h.01M410.7 187.5h.01M400.0 194.8h.01M422.6 184.9h.01" stroke="#000" stroke-opacity="0.27999999999999997" stroke-width="0.75" stroke-linecap="round" fill="none"/>
<path d="M407.8 187.8h.01M403.7 186.0h.01M407.9 191.7h.01M405.8 188.3h.01M410.1 189.5h.01M408.5 194.3h.01M413.1 189.1h.01M404.5 189.7h.01M402.4 186.0h.01M405.3 189.5h.01M407.2 186.5h.01M416.7 191.7h.01M409.8 190.8h.01M406.8 188.7h.01M399.3 188.4h.01M403.1 185.7h.01M406.9 187.3h.01M406.0 181.7h.01M417.9 190.9h.01M421.6 186.8h.01M403.4 189.0h.01M415.3 190.7h.01M406.4 192.6h.01M423.1 186.2h.01M409.2 190.2h.01M405.5 187.6h.01M415.1 191.0h.01M409.9 187.7h.01M411.5 187.8h.01M413.0 191.0h.01M420.4 185.2h.01M399.4 190.5h.01M418.8 192.9h.01M413.2 189.3h.01M407.2 191.1h.01M420.5 189.7h.01M416.5 184.7h.01M407.2 190.4h.01M417.8 186.0h.01M408.0 184.3h.01M411.4 188.0h.01M416.5 184.4h.01M405.3 185.4h.01M403.5 194.0h.01M409.5 190.8h.01M411.7 189.9h.01M414.7 182.1h.01M418.0 186.4h.01M399.1 186.4h.01M407.3 187.6h.01M419.7 194.3h.01M406.9 190.0h.01M411.4 194.4h.01M403.7 190.6h.01M404.5 193.8h.01M419.6 195.5h.01M416.5 187.3h.01M409.9 190.1h.01" stroke="#000" stroke-opacity="0.27999999999999997" stroke-width="0.75" stroke-linecap="round" fill="none"/>
<path d="M398.1 195.2h.01M404.8 181.6h.01M413.3 185.6h.01M417.5 189.8h.01M414.2 193.6h.01M410.8 189.4h.01M405.5 192.6h.01M412.1 189.8h.01M408.6 194.9h.01M417.0 187.7h.01M408.5 187.2h.01M413.2 193.9h.01M405.2 186.0h.01M406.3 187.7h.01M419.7 190.4h.01M399.0 185.0h.01M412.1 191.3h.01M411.0 186.8h.01M411.2 189.9h.01M405.3 189.9h.01M407.8 185.7h.01M404.6 189.6h.01M406.9 184.2h.01M407.3 188.4h.01M423.7 188.6h.01M419.3 191.6h.01M423.4 193.8h.01M411.5 190.1h.01M414.6 194.1h.01M412.7 189.1h.01M393.5 190.7h.01M409.2 187.8h.01M406.9 191.4h.01M413.0 187.2h.01M399.0 192.2h.01M398.6 185.3h.01M408.9 192.3h.01M411.5 196.1h.01M410.0 196.4h.01M411.4 187.2h.01M403.8 188.7h.01M412.1 188.2h.01M422.0 191.3h.01M412.1 183.3h.01M408.8 190.0h.01M409.3 187.3h.01M406.1 193.5h.01M404.5 195.2h.01M402.1 189.0h.01M405.5 191.6h.01M418.0 190.3h.01M397.6 188.5h.01M411.0 187.3h.01M405.8 182.5h.01M412.7 193.0h.01M417.8 189.4h.01M410.3 183.2h.01M395.6 189.3h.01" stroke="#000" stroke-opacity="0.27999999999999997" stroke-width="0.75" stroke-linecap="round" fill="none"/>
<path d="M367.9 216.9h.01M372.1 213.5h.01M374.8 217.7h.01M376.7 220.9h.01M376.3 214.2h.01M377.5 218.4h.01M377.6 215.1h.01M371.9 211.1h.01M370.3 216.3h.01M369.8 219.9h.01M380.3 204.2h.01M369.2 211.1h.01M379.3 213.9h.01M370.5 219.2h.01M368.8 218.5h.01M379.0 221.0h.01M376.9 216.6h.01M385.8 205.0h.01M371.2 214.6h.01M380.9 205.6h.01M375.3 213.9h.01M377.7 220.7h.01M369.5 215.5h.01M373.6 209.3h.01M380.8 215.8h.01M369.1 209.9h.01M384.7 208.7h.01M368.2 219.4h.01M384.3 213.4h.01M371.4 216.4h.01M382.9 212.5h.01M382.9 208.6h.01M369.5 209.6h.01M374.0 216.0h.01M373.5 204.1h.01M372.0 208.9h.01M368.1 216.6h.01M373.7 211.1h.01M371.0 208.4h.01M383.7 219.3h.01M372.8 203.2h.01M375.6 210.1h.01M380.1 210.0h.01M380.8 208.3h.01M378.1 207.7h.01M374.4 208.5h.01M379.0 221.0h.01M368.2 214.3h.01M371.7 211.0h.01M379.1 219.3h.01M378.2 213.8h.01M382.4 210.0h.01M379.8 206.0h.01M371.7 212.9h.01M382.8 212.5h.01M379.2 212.0h.01M384.7 221.6h.01M380.0 211.7h.01M381.5 219.6h.01M391.3 207.3h.01M373.5 205.2h.01M376.2 216.0h.01M368.2 209.4h.01M370.9 215.1h.01M379.7 216.9h.01M369.5 202.7h.01M375.4 215.1h.01M370.3 215.5h.01M372.8 218.2h.01M377.2 213.9h.01M380.6 215.6h.01M371.2 212.7h.01M374.9 212.7h.01M367.8 194.7h.01M367.7 218.5h.01M386.8 212.2h.01M371.4 206.6h.01M371.5 213.6h.01M373.7 214.9h.01M368.7 220.3h.01M381.9 218.4h.01M373.9 210.0h.01M379.3 206.8h.01M376.7 220.1h.01M371.2 210.7h.01M372.7 209.6h.01M375.8 205.7h.01M373.1 219.1h.01M375.9 219.6h.01M374.1 208.8h.01M368.9 205.8h.01M381.0 211.2h.01M373.1 215.5h.01M373.7 220.1h.01M369.2 215.4h.01M371.3 214.8h.01M369.4 215.3h.01M373.9 213.6h.01M372.0 210.2h.01M373.8 214.5h.01M377.2 216.0h.01M373.4 214.2h.01M376.3 201.3h.01M374.6 213.4h.01M370.0 212.7h.01M368.1 212.5h.01M371.4 217.4h.01M379.6 211.3h.01M371.8 215.1h.01M378.3 213.8h.01M370.9 213.7h.01M372.7 210.4h.01M371.7 212.0h.01M371.5 206.0h.01M384.5 210.8h.01M388.0 206.3h.01M377.6 206.4h.01M371.9 205.9h.01M379.4 213.9h.01M377.0 217.3h.01M380.4 212.6h.01M374.1 208.6h.01M376.5 210.4h.01M372.6 207.1h.01M368.0 212.5h.01M372.2 216.3h.01M371.4 212.4h.01M370.3 207.6h.01" stroke="#000" stroke-opacity="0.35" stroke-width="0.75" stroke-linecap="round" fill="none"/>
<path d="M371.7 211.7h.01M374.2 218.0h.01M379.5 213.2h.01M371.1 212.6h.01M372.8 202.9h.01M376.1 212.1h.01M376.9 204.1h.01M371.1 209.4h.01M371.9 219.7h.01M375.5 215.1h.01M369.9 215.6h.01M373.9 212.7h.01M379.4 210.0h.01M373.2 197.9h.01M367.5 208.0h.01M375.6 215.8h.01M368.1 213.9h.01M381.6 209.2h.01M375.5 208.3h.01M370.2 211.8h.01M378.1 213.6h.01M378.5 214.7h.01M374.4 200.7h.01M372.5 204.6h.01M367.7 198.5h.01M374.4 217.5h.01M375.8 216.2h.01M373.9 211.5h.01M380.0 207.3h.01M380.6 208.9h.01M384.4 213.3h.01M367.5 217.7h.01M386.7 209.1h.01M382.5 206.8h.01M370.1 213.4h.01M380.0 221.5h.01M376.6 211.9h.01M378.6 208.2h.01M379.7 217.2h.01M377.8 203.2h.01M371.8 213.5h.01M381.3 212.4h.01M375.6 212.0h.01M377.0 219.7h.01M375.4 208.4h.01M383.8 211.1h.01M384.4 221.0h.01M369.2 210.9h.01M373.9 218.9h.01M378.5 209.1h.01M379.8 211.7h.01M377.7 216.6h.01M369.7 219.5h.01M375.2 213.3h.01M378.7 205.1h.01M374.4 212.6h.01M373.8 212.7h.01M378.2 213.3h.01M373.8 210.8h.01M374.1 216.5h.01M382.2 212.7h.01M368.6 217.0h.01M374.7 208.4h.01M370.7 216.6h.01M368.3 215.2h.01M378.8 215.7h.01M381.8 207.8h.01M379.1 205.7h.01M373.2 215.5h.01M371.7 207.2h.01M375.4 219.2h.01M372.3 217.2h.01M371.6 214.5h.01M379.8 217.3h.01M376.1 208.2h.01M371.6 213.3h.01M382.9 215.8h.01M379.7 206.4h.01M368.5 219.3h.01M379.3 212.9h.01M382.3 211.3h.01M369.5 213.6h.01M373.4 220.2h.01M370.2 212.0h.01M371.9 201.9h.01M371.5 217.1h.01M374.2 215.2h.01M367.6 198.8h.01M377.0 203.3h.01M371.7 200.2h.01M377.5 208.6h.01M375.3 207.1h.01M371.0 210.3h.01M368.1 220.6h.01M382.7 214.2h.01M377.9 210.6h.01M370.9 220.9h.01M372.4 219.0h.01M377.4 202.2h.01M379.6 215.0h.01M369.3 211.2h.01M376.5 214.5h.01M372.5 205.9h.01M369.2 207.7h.01M380.6 219.0h.01M371.5 218.5h.01M370.3 205.2h.01M382.6 210.7h.01M378.2 220.9h.01M371.9 210.5h.01M367.4 205.8h.01M373.0 210.6h.01M373.9 208.2h.01M386.0 214.3h.01M376.9 209.8h.01M376.4 214.0h.01M375.8 208.2h.01M385.0 220.7h.01M372.6 206.4h.01M375.1 217.3h.01M383.6 214.7h.01M369.4 221.2h.01M379.9 209.6h.01" stroke="#000" stroke-opacity="0.35" stroke-width="0.75" stroke-linecap="round" fill="none"/>
<path d="M367.8 204.8h.01M368.7 216.6h.01M372.6 202.9h.01M372.5 203.5h.01M380.1 210.7h.01M378.3 218.4h.01M374.6 217.1h.01M376.5 216.7h.01M377.0 219.5h.01M370.9 213.7h.01M370.2 197.6h.01M372.5 207.2h.01M379.7 204.9h.01M370.3 215.1h.01M377.7 217.7h.01M382.4 206.3h.01M369.6 213.8h.01M370.8 217.5h.01M383.8 217.1h.01M373.6 203.2h.01M385.1 220.5h.01M372.7 214.8h.01M376.3 213.5h.01M377.0 215.4h.01M392.1 209.8h.01M369.2 221.2h.01M371.6 218.3h.01M376.6 216.0h.01M376.0 205.7h.01M370.9 209.4h.01M376.9 201.8h.01M373.9 221.5h.01M376.5 211.8h.01M374.9 210.2h.01M373.9 208.3h.01M373.8 208.8h.01M392.6 205.4h.01M374.5 209.5h.01M374.3 209.7h.01M380.6 214.5h.01M368.5 214.5h.01M375.7 216.1h.01M372.8 216.2h.01M377.8 210.7h.01M369.9 207.4h.01M377.3 204.2h.01M386.6 209.7h.01M376.0 215.9h.01M389.6 208.6h.01M369.9 211.4h.01M369.6 207.2h.01M369.9 207.2h.01M371.0 211.6h.01M369.5 200.0h.01M380.0 215.0h.01M369.7 212.5h.01M382.0 197.7h.01M369.2 219.9h.01M372.6 210.0h.01M374.4 216.4h.01M378.0 219.2h.01M376.4 213.2h.01M376.3 208.9h.01M374.9 208.6h.01M381.1 209.1h.01M381.2 217.8h.01M374.6 216.6h.01M371.5 214.6h.01M378.8 220.2h.01M374.1 203.2h.01M373.2 210.7h.01M375.3 215.5h.01M372.6 209.1h.01M380.7 216.3h.01M370.9 213.3h.01M383.7 208.4h.01M371.2 204.2h.01M375.3 210.1h.01M369.6 220.8h.01M374.1 213.2h.01M376.1 213.0h.01M382.6 207.1h.01M381.2 210.4h.01M369.9 218.3h.01M368.8 212.8h.01M375.6 203.4h.01M369.2 212.6h.01M368.6 221.0h.01M369.8 205.3h.01M373.6 214.2h.01M375.8 208.8h.01M369.2 213.5h.01M380.9 202.9h.01M375.8 216.3h.01M381.4 202.5h.01M379.9 213.8h.01M370.4 221.1h.01M371.0 209.7h.01M368.3 208.8h.01M369.2 208.6h.01M374.8 221.2h.01M375.6 221.6h.01M375.3 210.2h.01M379.7 216.7h.01M370.5 217.8h.01M377.8 212.6h.01M374.0 215.5h.01M369.7 211.9h.01M379.5 211.4h.01M369.2 215.1h.01M368.2 220.1h.01M371.6 206.5h.01M373.0 208.5h.01M369.7 212.7h.01M377.6 217.0h.01M371.0 211.1h.01M370.6 218.1h.01M373.4 212.0h.01M376.4 209.8h.01M378.5 209.6h.01M372.5 210.8h.01M383.7 206.0h.01M383.5 208.0h.01M367.3 210.3h.01M375.9 206.3h.01M376.5 208.9h.01M379.6 211.3h.01M374.2 200.3h.01M371.4 207.7h.01M378.2 215.8h.01" stroke="#000" stroke-opacity="0.35" stroke-width="0.75" stroke-linecap="round" fill="none"/>
<path d="M405.9 210.5h.01M412.2 212.1h.01M413.5 203.6h.01M402.8 210.2h.01M408.5 207.1h.01M416.3 209.1h.01M399.2 209.1h.01M413.5 202.2h.01M411.8 204.3h.01M421.7 206.0h.01M423.3 207.4h.01M412.4 207.6h.01M404.0 212.0h.01M410.9 207.9h.01M424.0 205.0h.01M427.8 206.2h.01M416.4 202.4h.01M407.7 204.0h.01M414.4 205.0h.01M405.6 204.7h.01M409.9 202.1h.01M420.0 205.1h.01M409.7 204.7h.01M421.0 207.7h.01M409.5 208.4h.01M406.6 207.2h.01M418.6 204.5h.01M411.9 207.9h.01M401.4 210.6h.01M426.3 200.8h.01M397.9 211.8h.01M415.5 205.0h.01M418.0 207.5h.01M416.4 206.5h.01M412.4 208.6h.01M419.2 203.8h.01M409.3 203.2h.01M407.2 208.4h.01M423.3 206.7h.01M401.3 208.6h.01M427.2 202.3h.01M408.9 205.8h.01M424.8 206.5h.01M401.7 209.8h.01M406.2 203.9h.01M406.5 209.0h.01M404.9 206.4h.01M420.3 204.4h.01M424.8 201.5h.01M409.9 209.6h.01M414.5 207.4h.01M418.8 208.9h.01M410.7 209.0h.01M426.4 203.7h.01M412.5 207.0h.01M412.6 208.8h.01M422.1 208.4h.01M400.3 207.3h.01M416.5 209.9h.01M423.8 201.2h.01M417.5 206.8h.01M423.7 201.8h.01M420.0 207.3h.01M415.1 206.9h.01M400.8 210.7h.01M419.3 206.3h.01M400.8 211.9h.01M405.5 208.0h.01M417.2 205.2h.01M400.7 211.6h.01M411.5 206.3h.01M405.9 207.0h.01M415.4 201.8h.01M412.6 205.3h.01M419.3 199.1h.01M413.2 202.0h.01M420.2 202.6h.01M409.8 199.0h.01M407.8 200.3h.01M412.9 205.5h.01M414.1 210.6h.01M424.2 202.3h.01M405.3 212.4h.01M418.0 205.4h.01M405.5 210.1h.01M416.5 207.4h.01M408.6 207.1h.01M414.4 203.9h.01M413.7 200.8h.01M420.4 198.7h.01M407.4 206.4h.01M416.5 204.0h.01M413.1 203.6h.01M414.1 204.3h.01" stroke="#000" stroke-opacity="0.35" stroke-width="0.75" stroke-linecap="round" fill="none"/>
<path d="M414.0 209.2h.01M403.5 206.9h.01M420.5 200.5h.01M416.8 204.8h.01M415.0 211.7h.01M415.4 208.9h.01M407.7 206.8h.01M403.4 206.3h.01M411.0 205.0h.01M414.0 205.3h.01M407.2 207.6h.01M411.9 205.0h.01M408.5 202.2h.01M398.7 213.0h.01M405.0 207.7h.01M415.6 208.4h.01M403.6 209.2h.01M402.7 213.0h.01M416.9 202.5h.01M415.3 209.9h.01M408.2 210.9h.01M414.0 203.5h.01M427.4 206.0h.01M406.0 209.9h.01M419.2 204.2h.01M404.5 203.5h.01M419.9 205.6h.01M411.8 208.2h.01M413.2 210.0h.01M409.5 210.8h.01M409.0 211.6h.01M416.5 205.6h.01M408.7 206.9h.01M413.7 205.3h.01M401.1 205.3h.01M411.5 204.1h.01M407.4 206.1h.01M407.5 207.5h.01M407.4 209.6h.01M422.6 204.0h.01M414.9 207.9h.01M421.0 207.0h.01M416.9 205.9h.01M408.7 202.4h.01M419.0 211.7h.01M415.3 203.8h.01M416.5 203.8h.01M416.6 199.8h.01M408.1 206.4h.01M414.7 211.6h.01M411.6 206.8h.01M412.4 206.4h.01M421.4 207.1h.01M419.1 204.3h.01M423.4 204.5h.01M417.4 208.3h.01M401.6 206.3h.01M406.8 206.4h.01M408.1 200.5h.01M405.2 209.0h.01M414.4 203.7h.01M406.2 207.8h.01M409.6 205.6h.01M420.5 204.9h.01M414.2 202.0h.01M407.4 204.6h.01M411.9 206.8h.01M406.6 200.1h.01M408.4 208.8h.01M405.4 208.0h.01M419.6 207.5h.01M420.0 201.6h.01M412.6 210.3h.01M408.2 210.6h.01M414.2 205.9h.01M406.8 205.1h.01M418.6 205.2h.01M405.0 203.6h.01M403.1 207.6h.01M417.5 204.5h.01M416.6 208.9h.01M396.1 210.2h.01M414.8 205.3h.01M409.7 203.1h.01M418.1 200.0h.01M426.6 203.3h.01M403.7 204.0h.01M408.4 211.4h.01M412.4 210.1h.01M409.1 202.8h.01M417.1 206.7h.01" stroke="#000" stroke-opacity="0.35" stroke-width="0.75" stroke-linecap="round" fill="none"/>
<path d="M425.0 203.6h.01M410.0 205.7h.01M406.9 202.5h.01M418.3 206.9h.01M409.5 208.1h.01M405.2 207.1h.01M413.1 207.0h.01M413.7 203.5h.01M407.0 210.0h.01M401.7 207.1h.01M412.5 207.6h.01M410.1 210.0h.01M412.6 206.7h.01M417.3 205.2h.01M407.8 209.0h.01M401.4 210.7h.01M418.1 203.1h.01M412.8 210.1h.01M413.6 206.0h.01M416.5 207.3h.01M406.8 203.8h.01M410.6 208.1h.01M400.3 207.4h.01M423.6 204.6h.01M409.4 207.8h.01M407.9 208.2h.01M403.3 211.5h.01M415.8 204.1h.01M405.2 207.5h.01M410.9 207.0h.01M411.9 205.4h.01M419.2 205.2h.01M413.0 207.4h.01M415.6 202.8h.01M412.3 205.0h.01M414.6 206.5h.01M408.0 207.3h.01M410.9 210.9h.01M418.8 207.3h.01M416.9 203.8h.01M411.9 212.0h.01M415.8 202.0h.01M409.1 205.7h.01M418.8 207.0h.01M419.3 204.1h.01M408.3 204.7h.01M424.3 202.6h.01M412.0 201.6h.01M414.4 202.5h.01M418.3 201.3h.01M410.8 207.9h.01M406.0 212.9h.01M406.2 208.8h.01M417.4 204.7h.01M405.3 206.1h.01M427.1 202.7h.01M416.4 201.1h.01M411.8 209.5h.01M405.9 204.8h.01M418.6 203.7h.01M406.2 204.1h.01M412.9 203.6h.01M406.5 201.7h.01M416.8 205.0h.01M397.7 213.5h.01M413.0 208.8h.01M408.3 210.9h.01M414.5 206.4h.01M417.3 201.8h.01M410.6 205.9h.01M421.6 207.3h.01M426.7 196.7h.01M409.9 213.6h.01M408.3 209.0h.01M420.7 202.8h.01M403.9 209.1h.01M406.8 204.8h.01M414.3 205.2h.01M413.0 209.2h.01M408.2 210.8h.01M405.6 207.5h.01M415.0 198.7h.01M419.5 209.8h.01M410.5 208.3h.01M421.6 208.1h.01M415.9 212.6h.01M414.0 204.8h.01M418.7 204.7h.01M407.0 202.1h.01M421.6 208.8h.01M421.3 208.0h.01M413.6 202.7h.01" stroke="#000" stroke-opacity="0.35" stroke-width="0.75" stroke-linecap="round" fill="none"/>
<path d="M410.7 205.2h.01M417.0 207.3h.01M391.0 205.3h.01M397.3 184.6h.01M399.4 207.1h.01M413.2 190.3h.01M387.2 203.6h.01" stroke="#000" stroke-opacity="0.175" stroke-width="0.75" stroke-linecap="round" fill="none"/>
<path d="M407.2 196.3h.01M409.8 203.4h.01M412.7 201.6h.01M383.8 197.2h.01M401.4 193.8h.01M390.4 201.1h.01M408.0 194.7h.01" stroke="#000" stroke-opacity="0.175" stroke-width="0.75" stroke-linecap="round" fill="none"/>
<path d="M420.0 206.7h.01M389.4 184.3h.01M403.1 215.8h.01M410.3 206.4h.01M397.5 206.5h.01M427.0 189.9h.01M401.7 204.2h.01" stroke="#000" stroke-opacity="0.175" stroke-width="0.75" stroke-linecap="round" fill="none"/>
<path d="M389.4 210.9h.01M390.9 216.2h.01M397.3 202.0h.01M392.7 212.5h.01M400.7 210.5h.01M399.1 210.9h.01M399.9 217.5h.01M397.7 209.3h.01M388.7 207.1h.01M403.5 213.0h.01" stroke="#000" stroke-opacity="0.21" stroke-width="0.75" stroke-linecap="round" fill="none"/>
<path d="M400.9 214.5h.01M401.8 208.6h.01M395.7 208.1h.01M407.3 206.4h.01M404.3 208.3h.01M403.3 205.0h.01M393.0 211.8h.01M401.5 210.6h.01M404.7 209.1h.01" stroke="#000" stroke-opacity="0.21" stroke-width="0.75" stroke-linecap="round" fill="none"/>
<path d="M403.7 210.7h.01M403.1 215.0h.01M393.9 210.7h.01M403.1 209.0h.01M401.6 208.0h.01M391.4 216.3h.01M401.0 217.8h.01M394.3 213.9h.01M396.4 212.4h.01" stroke="#000" stroke-opacity="0.21" stroke-width="0.75" stroke-linecap="round" fill="none"/>
</g>
<text x="367.90000000000003" y="166.8" font-size="8.6" font-weight="bold" text-anchor="start"  class="t">7.66</text>
<text x="427.20000000000005" y="166.8" font-size="8.6" font-weight="bold" text-anchor="end"  class="t">5.81</text>
<text x="367.90000000000003" y="221.5" font-size="8.6" font-weight="bold" text-anchor="start"  class="t">66.10</text>
<text x="427.20000000000005" y="221.5" font-size="8.6" font-weight="bold" text-anchor="end"  class="t">20.43</text>
<text x="398.2" y="153.5" font-size="8.6" font-weight="bold" text-anchor="middle"  class="t">CTC28</text>
<path d="M269.3 161.5 L274.0 169.9 L271.1 169.9 L271.1 179.4 L267.5 179.4 L267.5 169.9 L264.6 169.9 Z" fill="#000"/>
<text x="271.4" y="194.3" font-size="8.8" font-weight="bold" text-anchor="middle" transform="rotate(-90 271.4 194.3)"  class="t">CD8</text>
<rect x="267.55" y="208.8" width="3.5" height="10.5" fill="#000"/>
<rect x="283.1" y="234.6" width="54.39999999999998" height="3.2" fill="#000"/>
<text x="356" y="238.39999999999998" font-size="8.3" font-weight="bold" text-anchor="middle" letter-spacing="0.5" class="t">GFP</text>
<path d="M373 234.6 L419.7 234.6 L419.7 231.5 L429.2 236.2 L419.7 240.89999999999998 L419.7 237.79999999999998 L373 237.79999999999998 Z" fill="#000"/>
<line x1="71.80" y1="295.20" x2="71.80" y2="365.50" stroke="#444" stroke-width="1" />
<line x1="71.30" y1="365.00" x2="174.50" y2="365.00" stroke="#444" stroke-width="1" />
<line x1="68.80" y1="365.00" x2="71.80" y2="365.00" stroke="#444" stroke-width="1" />
<text x="68.0" y="367.7" font-size="8.6" font-weight="bold" text-anchor="end"  class="t">100</text>
<line x1="70.20" y1="358.05" x2="71.80" y2="358.05" stroke="#444" stroke-width="0.6" />
<line x1="70.20" y1="353.98" x2="71.80" y2="353.98" stroke="#444" stroke-width="0.6" />
<line x1="70.20" y1="351.09" x2="71.80" y2="351.09" stroke="#444" stroke-width="0.6" />
<line x1="70.20" y1="348.85" x2="71.80" y2="348.85" stroke="#444" stroke-width="0.6" />
<line x1="70.20" y1="347.02" x2="71.80" y2="347.02" stroke="#444" stroke-width="0.6" />
<line x1="70.20" y1="345.48" x2="71.80" y2="345.48" stroke="#444" stroke-width="0.6" />
<line x1="70.20" y1="344.14" x2="71.80" y2="344.14" stroke="#444" stroke-width="0.6" />
<line x1="70.20" y1="342.96" x2="71.80" y2="342.96" stroke="#444" stroke-width="0.6" />
<line x1="68.80" y1="341.90" x2="71.80" y2="341.90" stroke="#444" stroke-width="1" />
<text x="68.0" y="344.59999999999997" font-size="8.6" font-weight="bold" text-anchor="end"  class="t">1000</text>
<line x1="70.20" y1="334.95" x2="71.80" y2="334.95" stroke="#444" stroke-width="0.6" />
<line x1="70.20" y1="330.88" x2="71.80" y2="330.88" stroke="#444" stroke-width="0.6" />
<line x1="70.20" y1="327.99" x2="71.80" y2="327.99" stroke="#444" stroke-width="0.6" />
<line x1="70.20" y1="325.75" x2="71.80" y2="325.75" stroke="#444" stroke-width="0.6" />
<line x1="70.20" y1="323.92" x2="71.80" y2="323.92" stroke="#444" stroke-width="0.6" />
<line x1="70.20" y1="322.38" x2="71.80" y2="322.38" stroke="#444" stroke-width="0.6" />
<line x1="70.20" y1="321.04" x2="71.80" y2="321.04" stroke="#444" stroke-width="0.6" />
<line x1="70.20" y1="319.86" x2="71.80" y2="319.86" stroke="#444" stroke-width="0.6" />
<line x1="68.80" y1="318.80" x2="71.80" y2="318.80" stroke="#444" stroke-width="1" />
<text x="68.0" y="321.5" font-size="8.6" font-weight="bold" text-anchor="end"  class="t">10000</text>
<line x1="70.20" y1="311.85" x2="71.80" y2="311.85" stroke="#444" stroke-width="0.6" />
<line x1="70.20" y1="307.78" x2="71.80" y2="307.78" stroke="#444" stroke-width="0.6" />
<line x1="70.20" y1="304.89" x2="71.80" y2="304.89" stroke="#444" stroke-width="0.6" />
<line x1="70.20" y1="302.65" x2="71.80" y2="302.65" stroke="#444" stroke-width="0.6" />
<line x1="70.20" y1="300.82" x2="71.80" y2="300.82" stroke="#444" stroke-width="0.6" />
<line x1="70.20" y1="299.28" x2="71.80" y2="299.28" stroke="#444" stroke-width="0.6" />
<line x1="70.20" y1="297.94" x2="71.80" y2="297.94" stroke="#444" stroke-width="0.6" />
<line x1="70.20" y1="296.76" x2="71.80" y2="296.76" stroke="#444" stroke-width="0.6" />
<line x1="68.80" y1="295.70" x2="71.80" y2="295.70" stroke="#444" stroke-width="1" />
<text x="68.0" y="298.4" font-size="8.6" font-weight="bold" text-anchor="end"  class="t">100000</text>
<text x="34.6" y="324.35" font-size="8.6" font-weight="bold" text-anchor="middle" transform="rotate(-90 34.6 324.35)"  class="t">cells/µl</text>
<text x="122.5" y="264" font-size="9" font-weight="normal" text-anchor="middle" stroke="#000" stroke-width="0.25">CD4</text>
<text x="125.5" y="281.9" font-size="8.7" font-weight="normal" text-anchor="middle" stroke="#000" stroke-width="0.25"><tspan font-style="italic">p</tspan> = 0.0013</text>
<polyline points="98.50,291.80 98.50,283.60 150.70,283.60 150.70,291.80" fill="none" stroke="#333" stroke-width="1.1"/>
<line x1="98.00" y1="365.00" x2="98.00" y2="367.00" stroke="#444" stroke-width="1" />
<text x="98" y="375.8" font-size="8.8" font-weight="normal" text-anchor="middle" stroke="#000" stroke-width="0.25">EV</text>
<line x1="150.50" y1="365.00" x2="150.50" y2="367.00" stroke="#444" stroke-width="1" />
<text x="150.5" y="375.8" font-size="8.8" font-weight="normal" text-anchor="middle" stroke="#000" stroke-width="0.25">CTC28</text>
<text x="71.3" y="391.5" font-size="8.6" font-weight="bold" text-anchor="end"  class="t">Mean:</text>
<text x="98.3" y="391.5" font-size="8.6" font-weight="bold" text-anchor="middle"  class="t">590</text>
<text x="150.8" y="391.5" font-size="8.6" font-weight="bold" text-anchor="middle"  class="t">5082</text>
<circle cx="98.00" cy="338.00" r="2.45" fill="#000"/>
<circle cx="95.00" cy="340.00" r="2.45" fill="#000"/>
<circle cx="101.30" cy="345.00" r="2.45" fill="#000"/>
<circle cx="85.50" cy="353.30" r="2.45" fill="#000"/>
<circle cx="92.00" cy="354.50" r="2.45" fill="#000"/>
<circle cx="98.00" cy="356.30" r="2.45" fill="#000"/>
<circle cx="104.50" cy="355.00" r="2.45" fill="#000"/>
<circle cx="110.50" cy="353.80" r="2.45" fill="#000"/>
<line x1="80.50" y1="346.80" x2="116.30" y2="346.80" stroke="#222" stroke-width="0.9" />
<rect x="148.25" y="313.55" width="4.50" height="4.50" fill="#fff" stroke="#000" stroke-width="1.25"/>
<rect x="151.05" y="318.25" width="4.50" height="4.50" fill="#fff" stroke="#000" stroke-width="1.25"/>
<rect x="145.25" y="321.55" width="4.50" height="4.50" fill="#fff" stroke="#000" stroke-width="1.25"/>
<rect x="141.55" y="323.25" width="4.50" height="4.50" fill="#fff" stroke="#000" stroke-width="1.25"/>
<rect x="154.05" y="322.75" width="4.50" height="4.50" fill="#fff" stroke="#000" stroke-width="1.25"/>
<rect x="148.25" y="329.05" width="4.50" height="4.50" fill="#fff" stroke="#000" stroke-width="1.25"/>
<rect x="142.05" y="330.75" width="4.50" height="4.50" fill="#fff" stroke="#000" stroke-width="1.25"/>
<rect x="154.05" y="330.75" width="4.50" height="4.50" fill="#fff" stroke="#000" stroke-width="1.25"/>
<rect x="148.25" y="336.55" width="4.50" height="4.50" fill="#fff" stroke="#000" stroke-width="1.25"/>
<line x1="133.00" y1="325.30" x2="168.00" y2="325.30" stroke="#222" stroke-width="0.9" />
<line x1="294.30" y1="295.00" x2="294.30" y2="365.00" stroke="#444" stroke-width="1" />
<line x1="293.80" y1="364.50" x2="398.00" y2="364.50" stroke="#444" stroke-width="1" />
<line x1="291.30" y1="364.50" x2="294.30" y2="364.50" stroke="#444" stroke-width="1" />
<text x="290.5" y="367.2" font-size="8.6" font-weight="bold" text-anchor="end"  class="t">100</text>
<line x1="292.70" y1="357.58" x2="294.30" y2="357.58" stroke="#444" stroke-width="0.6" />
<line x1="292.70" y1="353.53" x2="294.30" y2="353.53" stroke="#444" stroke-width="0.6" />
<line x1="292.70" y1="350.65" x2="294.30" y2="350.65" stroke="#444" stroke-width="0.6" />
<line x1="292.70" y1="348.42" x2="294.30" y2="348.42" stroke="#444" stroke-width="0.6" />
<line x1="292.70" y1="346.60" x2="294.30" y2="346.60" stroke="#444" stroke-width="0.6" />
<line x1="292.70" y1="345.06" x2="294.30" y2="345.06" stroke="#444" stroke-width="0.6" />
<line x1="292.70" y1="343.73" x2="294.30" y2="343.73" stroke="#444" stroke-width="0.6" />
<line x1="292.70" y1="342.55" x2="294.30" y2="342.55" stroke="#444" stroke-width="0.6" />
<line x1="291.30" y1="341.50" x2="294.30" y2="341.50" stroke="#444" stroke-width="1" />
<text x="290.5" y="344.2" font-size="8.6" font-weight="bold" text-anchor="end"  class="t">1000</text>
<line x1="292.70" y1="334.58" x2="294.30" y2="334.58" stroke="#444" stroke-width="0.6" />
<line x1="292.70" y1="330.53" x2="294.30" y2="330.53" stroke="#444" stroke-width="0.6" />
<line x1="292.70" y1="327.65" x2="294.30" y2="327.65" stroke="#444" stroke-width="0.6" />
<line x1="292.70" y1="325.42" x2="294.30" y2="325.42" stroke="#444" stroke-width="0.6" />
<line x1="292.70" y1="323.60" x2="294.30" y2="323.60" stroke="#444" stroke-width="0.6" />
<line x1="292.70" y1="322.06" x2="294.30" y2="322.06" stroke="#444" stroke-width="0.6" />
<line x1="292.70" y1="320.73" x2="294.30" y2="320.73" stroke="#444" stroke-width="0.6" />
<line x1="292.70" y1="319.55" x2="294.30" y2="319.55" stroke="#444" stroke-width="0.6" />
<line x1="291.30" y1="318.50" x2="294.30" y2="318.50" stroke="#444" stroke-width="1" />
<text x="290.5" y="321.2" font-size="8.6" font-weight="bold" text-anchor="end"  class="t">10000</text>
<line x1="292.70" y1="311.58" x2="294.30" y2="311.58" stroke="#444" stroke-width="0.6" />
<line x1="292.70" y1="307.53" x2="294.30" y2="307.53" stroke="#444" stroke-width="0.6" />
<line x1="292.70" y1="304.65" x2="294.30" y2="304.65" stroke="#444" stroke-width="0.6" />
<line x1="292.70" y1="302.42" x2="294.30" y2="302.42" stroke="#444" stroke-width="0.6" />
<line x1="292.70" y1="300.60" x2="294.30" y2="300.60" stroke="#444" stroke-width="0.6" />
<line x1="292.70" y1="299.06" x2="294.30" y2="299.06" stroke="#444" stroke-width="0.6" />
<line x1="292.70" y1="297.73" x2="294.30" y2="297.73" stroke="#444" stroke-width="0.6" />
<line x1="292.70" y1="296.55" x2="294.30" y2="296.55" stroke="#444" stroke-width="0.6" />
<line x1="291.30" y1="295.50" x2="294.30" y2="295.50" stroke="#444" stroke-width="1" />
<text x="290.5" y="298.2" font-size="8.6" font-weight="bold" text-anchor="end"  class="t">100000</text>
<text x="257.2" y="324.0" font-size="8.6" font-weight="bold" text-anchor="middle" transform="rotate(-90 257.2 324.0)"  class="t">cells/µl</text>
<text x="345" y="264" font-size="9" font-weight="normal" text-anchor="middle" stroke="#000" stroke-width="0.25">CD8</text>
<text x="347.5" y="281.9" font-size="8.7" font-weight="normal" text-anchor="middle" stroke="#000" stroke-width="0.25"><tspan font-style="italic">p</tspan> = 0.0072</text>
<polyline points="320.80,291.80 320.80,283.60 372.50,283.60 372.50,291.80" fill="none" stroke="#333" stroke-width="1.1"/>
<line x1="320.00" y1="364.50" x2="320.00" y2="366.50" stroke="#444" stroke-width="1" />
<text x="320" y="375.3" font-size="8.8" font-weight="normal" text-anchor="middle" stroke="#000" stroke-width="0.25">EV</text>
<line x1="372.50" y1="364.50" x2="372.50" y2="366.50" stroke="#444" stroke-width="1" />
<text x="372.5" y="375.3" font-size="8.8" font-weight="normal" text-anchor="middle" stroke="#000" stroke-width="0.25">CTC28</text>
<text x="293" y="391.5" font-size="8.6" font-weight="bold" text-anchor="end"  class="t">Mean:</text>
<text x="320.5" y="391.5" font-size="8.6" font-weight="bold" text-anchor="middle"  class="t">189</text>
<text x="373" y="391.5" font-size="8.6" font-weight="bold" text-anchor="middle"  class="t">703</text>
<circle cx="311.30" cy="353.30" r="2.45" fill="#000"/>
<circle cx="317.50" cy="356.30" r="2.45" fill="#000"/>
<circle cx="323.80" cy="356.30" r="2.45" fill="#000"/>
<circle cx="329.50" cy="355.00" r="2.45" fill="#000"/>
<circle cx="311.30" cy="362.50" r="2.45" fill="#000"/>
<circle cx="317.50" cy="364.50" r="2.45" fill="#000"/>
<circle cx="323.80" cy="363.80" r="2.45" fill="#000"/>
<circle cx="329.50" cy="360.80" r="2.45" fill="#000"/>
<line x1="303.80" y1="358.30" x2="337.50" y2="358.30" stroke="#222" stroke-width="0.9" />
<rect x="367.25" y="337.75" width="4.50" height="4.50" fill="#fff" stroke="#000" stroke-width="1.25"/>
<rect x="373.55" y="337.25" width="4.50" height="4.50" fill="#fff" stroke="#000" stroke-width="1.25"/>
<rect x="357.75" y="342.75" width="4.50" height="4.50" fill="#fff" stroke="#000" stroke-width="1.25"/>
<rect x="364.05" y="345.25" width="4.50" height="4.50" fill="#fff" stroke="#000" stroke-width="1.25"/>
<rect x="370.25" y="345.25" width="4.50" height="4.50" fill="#fff" stroke="#000" stroke-width="1.25"/>
<rect x="376.55" y="342.75" width="4.50" height="4.50" fill="#fff" stroke="#000" stroke-width="1.25"/>
<rect x="382.75" y="340.75" width="4.50" height="4.50" fill="#fff" stroke="#000" stroke-width="1.25"/>
<rect x="373.55" y="350.75" width="4.50" height="4.50" fill="#fff" stroke="#000" stroke-width="1.25"/>
<rect x="367.25" y="354.75" width="4.50" height="4.50" fill="#fff" stroke="#000" stroke-width="1.25"/>
<line x1="356.30" y1="345.00" x2="390.00" y2="345.00" stroke="#222" stroke-width="0.9" />
<line x1="71.80" y1="437.50" x2="71.80" y2="507.80" stroke="#333" stroke-width="1.4" />
<line x1="71.30" y1="507.30" x2="176.30" y2="507.30" stroke="#333" stroke-width="1.4" />
<line x1="69.80" y1="507.30" x2="71.80" y2="507.30" stroke="#333" stroke-width="1.4" />
<text x="67.89999999999999" y="510.40000000000003" font-size="8.6" font-weight="bold" text-anchor="end"  class="t">0</text>
<line x1="69.80" y1="493.44" x2="71.80" y2="493.44" stroke="#333" stroke-width="1.4" />
<text x="67.89999999999999" y="496.54" font-size="8.6" font-weight="bold" text-anchor="end"  class="t">100</text>
<line x1="69.80" y1="479.58" x2="71.80" y2="479.58" stroke="#333" stroke-width="1.4" />
<text x="67.89999999999999" y="482.68" font-size="8.6" font-weight="bold" text-anchor="end"  class="t">200</text>
<line x1="69.80" y1="465.72" x2="71.80" y2="465.72" stroke="#333" stroke-width="1.4" />
<text x="67.89999999999999" y="468.82000000000005" font-size="8.6" font-weight="bold" text-anchor="end"  class="t">300</text>
<line x1="69.80" y1="451.86" x2="71.80" y2="451.86" stroke="#333" stroke-width="1.4" />
<text x="67.89999999999999" y="454.96000000000004" font-size="8.6" font-weight="bold" text-anchor="end"  class="t">400</text>
<line x1="69.80" y1="438.00" x2="71.80" y2="438.00" stroke="#333" stroke-width="1.4" />
<text x="67.89999999999999" y="441.1" font-size="8.6" font-weight="bold" text-anchor="end"  class="t">500</text>
<line x1="78.80" y1="507.30" x2="78.80" y2="509.30" stroke="#333" stroke-width="1.4" />
<text x="78.8" y="517.3" font-size="8.6" font-weight="bold" text-anchor="middle"  class="t">7</text>
<line x1="93.58" y1="507.30" x2="93.58" y2="509.30" stroke="#333" stroke-width="1.4" />
<text x="93.58" y="517.3" font-size="8.6" font-weight="bold" text-anchor="middle"  class="t">15</text>
<line x1="108.36" y1="507.30" x2="108.36" y2="509.30" stroke="#333" stroke-width="1.4" />
<text x="108.36" y="517.3" font-size="8.6" font-weight="bold" text-anchor="middle"  class="t">22</text>
<line x1="123.14" y1="507.30" x2="123.14" y2="509.30" stroke="#333" stroke-width="1.4" />
<text x="123.13999999999999" y="517.3" font-size="8.6" font-weight="bold" text-anchor="middle"  class="t">29</text>
<line x1="137.92" y1="507.30" x2="137.92" y2="509.30" stroke="#333" stroke-width="1.4" />
<text x="137.92" y="517.3" font-size="8.6" font-weight="bold" text-anchor="middle"  class="t">36</text>
<line x1="152.70" y1="507.30" x2="152.70" y2="509.30" stroke="#333" stroke-width="1.4" />
<text x="152.7" y="517.3" font-size="8.6" font-weight="bold" text-anchor="middle"  class="t">43</text>
<line x1="167.48" y1="507.30" x2="167.48" y2="509.30" stroke="#333" stroke-width="1.4" />
<text x="167.48" y="517.3" font-size="8.6" font-weight="bold" text-anchor="middle"  class="t">50</text>
<text x="49.6" y="470.9" font-size="8.6" font-weight="bold" text-anchor="middle" transform="rotate(-90 49.6 470.9)" letter-spacing="0.22" class="t">Tumor size (mm<tspan font-size="6" dy="-3">2</tspan><tspan dy="3">)</tspan></text>
<text x="123" y="530.2" font-size="8.6" font-weight="bold" text-anchor="middle"  class="t">Days</text>
<polyline points="78.80,500.09 86.23,498.71 93.66,496.77 101.09,489.28 108.52,476.81 115.95,473.34 123.38,451.86 130.81,438.69" fill="none" stroke="#000" stroke-width="0.8"/>
<line x1="101.09" y1="485.54" x2="101.09" y2="493.02" stroke="#000" stroke-width="1.15" />
<line x1="98.69" y1="485.54" x2="103.49" y2="485.54" stroke="#000" stroke-width="1.15" />
<line x1="98.69" y1="493.02" x2="103.49" y2="493.02" stroke="#000" stroke-width="1.15" />
<line x1="108.52" y1="472.37" x2="108.52" y2="481.24" stroke="#000" stroke-width="1.15" />
<line x1="106.12" y1="472.37" x2="110.92" y2="472.37" stroke="#000" stroke-width="1.15" />
<line x1="106.12" y1="481.24" x2="110.92" y2="481.24" stroke="#000" stroke-width="1.15" />
<line x1="115.95" y1="467.80" x2="115.95" y2="478.89" stroke="#000" stroke-width="1.15" />
<line x1="113.55" y1="467.80" x2="118.35" y2="467.80" stroke="#000" stroke-width="1.15" />
<line x1="113.55" y1="478.89" x2="118.35" y2="478.89" stroke="#000" stroke-width="1.15" />
<line x1="123.38" y1="444.93" x2="123.38" y2="458.79" stroke="#000" stroke-width="1.15" />
<line x1="120.98" y1="444.93" x2="125.78" y2="444.93" stroke="#000" stroke-width="1.15" />
<line x1="120.98" y1="458.79" x2="125.78" y2="458.79" stroke="#000" stroke-width="1.15" />
<line x1="130.81" y1="438.69" x2="130.81" y2="449.09" stroke="#000" stroke-width="1.15" />
<line x1="128.41" y1="438.69" x2="133.21" y2="438.69" stroke="#000" stroke-width="1.15" />
<line x1="128.41" y1="449.09" x2="133.21" y2="449.09" stroke="#000" stroke-width="1.15" />
<path d="M78.80 496.99 L81.50 502.19 L76.10 502.19 Z" fill="#000"/>
<path d="M86.23 495.61 L88.93 500.81 L83.53 500.81 Z" fill="#000"/>
<path d="M93.66 493.67 L96.36 498.87 L90.96 498.87 Z" fill="#000"/>
<path d="M101.09 486.18 L103.79 491.38 L98.39 491.38 Z" fill="#000"/>
<path d="M108.52 473.71 L111.22 478.91 L105.82 478.91 Z" fill="#000"/>
<path d="M115.95 470.24 L118.65 475.44 L113.25 475.44 Z" fill="#000"/>
<path d="M123.38 448.76 L126.08 453.96 L120.68 453.96 Z" fill="#000"/>
<path d="M130.81 435.59 L133.51 440.79 L128.11 440.79 Z" fill="#000"/>
<polyline points="78.80,499.68 86.23,498.98 93.66,498.43 101.09,498.71 108.52,498.29 115.95,498.71 123.38,489.56 130.81,482.63 138.24,473.90 145.67,462.53 153.10,441.19" fill="none" stroke="#000" stroke-width="0.8"/>
<line x1="108.52" y1="496.91" x2="108.52" y2="499.68" stroke="#000" stroke-width="1.15" />
<line x1="106.12" y1="496.91" x2="110.92" y2="496.91" stroke="#000" stroke-width="1.15" />
<line x1="106.12" y1="499.68" x2="110.92" y2="499.68" stroke="#000" stroke-width="1.15" />
<line x1="115.95" y1="497.04" x2="115.95" y2="500.37" stroke="#000" stroke-width="1.15" />
<line x1="113.55" y1="497.04" x2="118.35" y2="497.04" stroke="#000" stroke-width="1.15" />
<line x1="113.55" y1="500.37" x2="118.35" y2="500.37" stroke="#000" stroke-width="1.15" />
<line x1="123.38" y1="484.71" x2="123.38" y2="494.41" stroke="#000" stroke-width="1.15" />
<line x1="120.98" y1="484.71" x2="125.78" y2="484.71" stroke="#000" stroke-width="1.15" />
<line x1="120.98" y1="494.41" x2="125.78" y2="494.41" stroke="#000" stroke-width="1.15" />
<line x1="130.81" y1="476.39" x2="130.81" y2="489.56" stroke="#000" stroke-width="1.15" />
<line x1="128.41" y1="476.39" x2="133.21" y2="476.39" stroke="#000" stroke-width="1.15" />
<line x1="128.41" y1="489.56" x2="133.21" y2="489.56" stroke="#000" stroke-width="1.15" />
<line x1="138.24" y1="465.58" x2="138.24" y2="482.21" stroke="#000" stroke-width="1.15" />
<line x1="135.84" y1="465.58" x2="140.64" y2="465.58" stroke="#000" stroke-width="1.15" />
<line x1="135.84" y1="482.21" x2="140.64" y2="482.21" stroke="#000" stroke-width="1.15" />
<line x1="145.67" y1="452.83" x2="145.67" y2="470.85" stroke="#000" stroke-width="1.15" />
<line x1="143.27" y1="452.83" x2="148.07" y2="452.83" stroke="#000" stroke-width="1.15" />
<line x1="143.27" y1="470.85" x2="148.07" y2="470.85" stroke="#000" stroke-width="1.15" />
<line x1="153.10" y1="438.42" x2="153.10" y2="455.05" stroke="#000" stroke-width="1.15" />
<line x1="150.70" y1="438.42" x2="155.50" y2="438.42" stroke="#000" stroke-width="1.15" />
<line x1="150.70" y1="455.05" x2="155.50" y2="455.05" stroke="#000" stroke-width="1.15" />
<rect x="76.50" y="497.38" width="4.60" height="4.60" fill="#000"/>
<rect x="83.93" y="496.68" width="4.60" height="4.60" fill="#000"/>
<rect x="91.36" y="496.13" width="4.60" height="4.60" fill="#000"/>
<rect x="98.79" y="496.41" width="4.60" height="4.60" fill="#000"/>
<rect x="106.22" y="495.99" width="4.60" height="4.60" fill="#000"/>
<rect x="113.65" y="496.41" width="4.60" height="4.60" fill="#000"/>
<rect x="121.08" y="487.26" width="4.60" height="4.60" fill="#000"/>
<rect x="128.51" y="480.33" width="4.60" height="4.60" fill="#000"/>
<rect x="135.94" y="471.60" width="4.60" height="4.60" fill="#000"/>
<rect x="143.37" y="460.23" width="4.60" height="4.60" fill="#000"/>
<rect x="150.80" y="438.89" width="4.60" height="4.60" fill="#000"/>
<polyline points="78.80,499.68 86.23,498.71 93.66,499.54 101.09,502.03 108.52,502.31 115.95,502.59 123.38,502.59 130.81,502.17 138.24,499.26 145.67,495.66 153.10,492.33 160.53,489.84 167.96,486.79 175.39,485.12" fill="none" stroke="#000" stroke-width="0.8"/>
<line x1="138.24" y1="497.18" x2="138.24" y2="500.65" stroke="#000" stroke-width="1.15" />
<line x1="135.84" y1="497.18" x2="140.64" y2="497.18" stroke="#000" stroke-width="1.15" />
<line x1="135.84" y1="500.65" x2="140.64" y2="500.65" stroke="#000" stroke-width="1.15" />
<line x1="145.67" y1="492.89" x2="145.67" y2="497.74" stroke="#000" stroke-width="1.15" />
<line x1="143.27" y1="492.89" x2="148.07" y2="492.89" stroke="#000" stroke-width="1.15" />
<line x1="143.27" y1="497.74" x2="148.07" y2="497.74" stroke="#000" stroke-width="1.15" />
<line x1="153.10" y1="484.02" x2="153.10" y2="495.80" stroke="#000" stroke-width="1.15" />
<line x1="150.70" y1="484.02" x2="155.50" y2="484.02" stroke="#000" stroke-width="1.15" />
<line x1="150.70" y1="495.80" x2="155.50" y2="495.80" stroke="#000" stroke-width="1.15" />
<line x1="160.53" y1="479.44" x2="160.53" y2="493.99" stroke="#000" stroke-width="1.15" />
<line x1="158.13" y1="479.44" x2="162.93" y2="479.44" stroke="#000" stroke-width="1.15" />
<line x1="158.13" y1="493.99" x2="162.93" y2="493.99" stroke="#000" stroke-width="1.15" />
<line x1="167.96" y1="472.23" x2="167.96" y2="492.33" stroke="#000" stroke-width="1.15" />
<line x1="165.56" y1="472.23" x2="170.36" y2="472.23" stroke="#000" stroke-width="1.15" />
<line x1="165.56" y1="492.33" x2="170.36" y2="492.33" stroke="#000" stroke-width="1.15" />
<line x1="175.39" y1="470.16" x2="175.39" y2="491.36" stroke="#000" stroke-width="1.15" />
<line x1="172.99" y1="470.16" x2="177.79" y2="470.16" stroke="#000" stroke-width="1.15" />
<line x1="172.99" y1="491.36" x2="177.79" y2="491.36" stroke="#000" stroke-width="1.15" />
<path d="M78.80 496.68 L81.80 499.68 L78.80 502.68 L75.80 499.68 Z" fill="#fff" stroke="#000" stroke-width="1.2"/>
<path d="M86.23 495.71 L89.23 498.71 L86.23 501.71 L83.23 498.71 Z" fill="#fff" stroke="#000" stroke-width="1.2"/>
<path d="M93.66 496.54 L96.66 499.54 L93.66 502.54 L90.66 499.54 Z" fill="#fff" stroke="#000" stroke-width="1.2"/>
<path d="M101.09 499.03 L104.09 502.03 L101.09 505.03 L98.09 502.03 Z" fill="#fff" stroke="#000" stroke-width="1.2"/>
<path d="M108.52 499.31 L111.52 502.31 L108.52 505.31 L105.52 502.31 Z" fill="#fff" stroke="#000" stroke-width="1.2"/>
<path d="M115.95 499.59 L118.95 502.59 L115.95 505.59 L112.95 502.59 Z" fill="#fff" stroke="#000" stroke-width="1.2"/>
<path d="M123.38 499.59 L126.38 502.59 L123.38 505.59 L120.38 502.59 Z" fill="#fff" stroke="#000" stroke-width="1.2"/>
<path d="M130.81 499.17 L133.81 502.17 L130.81 505.17 L127.81 502.17 Z" fill="#fff" stroke="#000" stroke-width="1.2"/>
<path d="M138.24 496.26 L141.24 499.26 L138.24 502.26 L135.24 499.26 Z" fill="#fff" stroke="#000" stroke-width="1.2"/>
<path d="M145.67 492.66 L148.67 495.66 L145.67 498.66 L142.67 495.66 Z" fill="#fff" stroke="#000" stroke-width="1.2"/>
<path d="M153.10 489.33 L156.10 492.33 L153.10 495.33 L150.10 492.33 Z" fill="#fff" stroke="#000" stroke-width="1.2"/>
<path d="M160.53 486.84 L163.53 489.84 L160.53 492.84 L157.53 489.84 Z" fill="#fff" stroke="#000" stroke-width="1.2"/>
<path d="M167.96 483.79 L170.96 486.79 L167.96 489.79 L164.96 486.79 Z" fill="#fff" stroke="#000" stroke-width="1.2"/>
<path d="M175.39 482.12 L178.39 485.12 L175.39 488.12 L172.39 485.12 Z" fill="#fff" stroke="#000" stroke-width="1.2"/>
<polyline points="78.80,500.09 86.23,498.98 93.66,501.48 101.09,502.31 108.52,502.45 115.95,502.73 123.38,502.73 130.81,502.31 138.24,501.48 145.67,500.65 153.10,498.85 160.53,497.60 167.96,495.10 175.39,493.86" fill="none" stroke="#000" stroke-width="0.8"/>
<line x1="145.67" y1="499.26" x2="145.67" y2="502.03" stroke="#000" stroke-width="1.15" />
<line x1="143.27" y1="499.26" x2="148.07" y2="499.26" stroke="#000" stroke-width="1.15" />
<line x1="143.27" y1="502.03" x2="148.07" y2="502.03" stroke="#000" stroke-width="1.15" />
<line x1="153.10" y1="497.46" x2="153.10" y2="500.23" stroke="#000" stroke-width="1.15" />
<line x1="150.70" y1="497.46" x2="155.50" y2="497.46" stroke="#000" stroke-width="1.15" />
<line x1="150.70" y1="500.23" x2="155.50" y2="500.23" stroke="#000" stroke-width="1.15" />
<line x1="160.53" y1="495.52" x2="160.53" y2="499.68" stroke="#000" stroke-width="1.15" />
<line x1="158.13" y1="495.52" x2="162.93" y2="495.52" stroke="#000" stroke-width="1.15" />
<line x1="158.13" y1="499.68" x2="162.93" y2="499.68" stroke="#000" stroke-width="1.15" />
<line x1="167.96" y1="492.05" x2="167.96" y2="498.15" stroke="#000" stroke-width="1.15" />
<line x1="165.56" y1="492.05" x2="170.36" y2="492.05" stroke="#000" stroke-width="1.15" />
<line x1="165.56" y1="498.15" x2="170.36" y2="498.15" stroke="#000" stroke-width="1.15" />
<line x1="175.39" y1="490.39" x2="175.39" y2="497.32" stroke="#000" stroke-width="1.15" />
<line x1="172.99" y1="490.39" x2="177.79" y2="490.39" stroke="#000" stroke-width="1.15" />
<line x1="172.99" y1="497.32" x2="177.79" y2="497.32" stroke="#000" stroke-width="1.15" />
<rect x="76.50" y="497.79" width="4.60" height="4.60" fill="#fff" stroke="#000" stroke-width="1.25"/>
<rect x="83.93" y="496.68" width="4.60" height="4.60" fill="#fff" stroke="#000" stroke-width="1.25"/>
<rect x="91.36" y="499.18" width="4.60" height="4.60" fill="#fff" stroke="#000" stroke-width="1.25"/>
<rect x="98.79" y="500.01" width="4.60" height="4.60" fill="#fff" stroke="#000" stroke-width="1.25"/>
<rect x="106.22" y="500.15" width="4.60" height="4.60" fill="#fff" stroke="#000" stroke-width="1.25"/>
<rect x="113.65" y="500.43" width="4.60" height="4.60" fill="#fff" stroke="#000" stroke-width="1.25"/>
<rect x="121.08" y="500.43" width="4.60" height="4.60" fill="#fff" stroke="#000" stroke-width="1.25"/>
<rect x="128.51" y="500.01" width="4.60" height="4.60" fill="#fff" stroke="#000" stroke-width="1.25"/>
<rect x="135.94" y="499.18" width="4.60" height="4.60" fill="#fff" stroke="#000" stroke-width="1.25"/>
<rect x="143.37" y="498.35" width="4.60" height="4.60" fill="#fff" stroke="#000" stroke-width="1.25"/>
<rect x="150.80" y="496.55" width="4.60" height="4.60" fill="#fff" stroke="#000" stroke-width="1.25"/>
<rect x="158.23" y="495.30" width="4.60" height="4.60" fill="#fff" stroke="#000" stroke-width="1.25"/>
<rect x="165.66" y="492.80" width="4.60" height="4.60" fill="#fff" stroke="#000" stroke-width="1.25"/>
<rect x="173.09" y="491.56" width="4.60" height="4.60" fill="#fff" stroke="#000" stroke-width="1.25"/>
<polyline points="183.80,440.80 187.50,440.80 187.50,484.50 183.80,484.50" fill="none" stroke="#333" stroke-width="1.2"/>
<polyline points="183.80,484.50 187.50,484.50 187.50,493.30 183.80,493.30" fill="none" stroke="#333" stroke-width="1.2"/>
<text x="190" y="463.8" font-size="7.8" font-weight="bold" text-anchor="start" stroke="#000" stroke-width="0.3">***</text>
<text x="190" y="491" font-size="7.8" font-weight="bold" text-anchor="start" stroke="#000" stroke-width="0.3">****</text>
<path d="M54.30 544.00 L56.90 549.00 L51.70 549.00 Z" fill="#000"/>
<text x="61.8" y="549.8000000000001" font-size="8.6" font-weight="bold" text-anchor="start"  class="t">Untreated</text>
<rect x="51.40" y="554.40" width="5.8" height="4.4" fill="#000"/>
<text x="61.8" y="559.6" font-size="8.6" font-weight="bold" text-anchor="start"  class="t">Pmel-1 EV + CD4 EV</text>
<path d="M54.30 562.50 L57.20 565.40 L54.30 568.30 L51.40 565.40 Z" fill="#fff" stroke="#000" stroke-width="1.2"/>
<text x="61.8" y="568.5" font-size="8.6" font-weight="bold" text-anchor="start"  class="t">Pmel-1 EV + CD4 CTC28</text>
<rect x="51.70" y="573.50" width="5.4" height="4.6" fill="#fff" stroke="#000" stroke-width="1.25"/>
<text x="61.8" y="578.9" font-size="8.6" font-weight="bold" text-anchor="start"  class="t">Pmel-1 CTC28 + CD4 CTC28</text>
<line x1="294.30" y1="437.50" x2="294.30" y2="508.00" stroke="#333" stroke-width="1.4" />
<line x1="293.80" y1="507.50" x2="398.80" y2="507.50" stroke="#333" stroke-width="1.4" />
<line x1="292.30" y1="507.50" x2="294.30" y2="507.50" stroke="#333" stroke-width="1.4" />
<text x="290.5" y="510.6" font-size="8.6" font-weight="bold" text-anchor="end"  class="t">0</text>
<line x1="292.30" y1="493.60" x2="294.30" y2="493.60" stroke="#333" stroke-width="1.4" />
<text x="290.5" y="496.70000000000005" font-size="8.6" font-weight="bold" text-anchor="end"  class="t">100</text>
<line x1="292.30" y1="479.70" x2="294.30" y2="479.70" stroke="#333" stroke-width="1.4" />
<text x="290.5" y="482.8" font-size="8.6" font-weight="bold" text-anchor="end"  class="t">200</text>
<line x1="292.30" y1="465.80" x2="294.30" y2="465.80" stroke="#333" stroke-width="1.4" />
<text x="290.5" y="468.90000000000003" font-size="8.6" font-weight="bold" text-anchor="end"  class="t">300</text>
<line x1="292.30" y1="451.90" x2="294.30" y2="451.90" stroke="#333" stroke-width="1.4" />
<text x="290.5" y="455.0" font-size="8.6" font-weight="bold" text-anchor="end"  class="t">400</text>
<line x1="292.30" y1="438.00" x2="294.30" y2="438.00" stroke="#333" stroke-width="1.4" />
<text x="290.5" y="441.1" font-size="8.6" font-weight="bold" text-anchor="end"  class="t">500</text>
<line x1="300.80" y1="507.50" x2="300.80" y2="509.50" stroke="#333" stroke-width="1.4" />
<text x="300.8" y="517.5" font-size="8.6" font-weight="bold" text-anchor="middle"  class="t">7</text>
<line x1="313.83" y1="507.50" x2="313.83" y2="509.50" stroke="#333" stroke-width="1.4" />
<text x="313.83" y="517.5" font-size="8.6" font-weight="bold" text-anchor="middle"  class="t">15</text>
<line x1="326.86" y1="507.50" x2="326.86" y2="509.50" stroke="#333" stroke-width="1.4" />
<text x="326.86" y="517.5" font-size="8.6" font-weight="bold" text-anchor="middle"  class="t">22</text>
<line x1="339.89" y1="507.50" x2="339.89" y2="509.50" stroke="#333" stroke-width="1.4" />
<text x="339.89" y="517.5" font-size="8.6" font-weight="bold" text-anchor="middle"  class="t">29</text>
<line x1="352.92" y1="507.50" x2="352.92" y2="509.50" stroke="#333" stroke-width="1.4" />
<text x="352.92" y="517.5" font-size="8.6" font-weight="bold" text-anchor="middle"  class="t">36</text>
<line x1="365.95" y1="507.50" x2="365.95" y2="509.50" stroke="#333" stroke-width="1.4" />
<text x="365.95" y="517.5" font-size="8.6" font-weight="bold" text-anchor="middle"  class="t">43</text>
<line x1="378.98" y1="507.50" x2="378.98" y2="509.50" stroke="#333" stroke-width="1.4" />
<text x="378.98" y="517.5" font-size="8.6" font-weight="bold" text-anchor="middle"  class="t">50</text>
<line x1="392.01" y1="507.50" x2="392.01" y2="509.50" stroke="#333" stroke-width="1.4" />
<text x="392.01" y="517.5" font-size="8.6" font-weight="bold" text-anchor="middle"  class="t">57</text>
<text x="272.1" y="470.9" font-size="8.6" font-weight="bold" text-anchor="middle" transform="rotate(-90 272.1 470.9)" letter-spacing="0.22" class="t">Tumor size (mm<tspan font-size="6" dy="-3">2</tspan><tspan dy="3">)</tspan></text>
<text x="346.3" y="530.2" font-size="8.6" font-weight="bold" text-anchor="middle"  class="t">Days</text>
<polyline points="300.80,499.44 307.31,496.38 313.83,493.60 320.35,486.65 326.86,479.98 333.38,477.48 339.89,463.72 346.41,457.46" fill="none" stroke="#000" stroke-width="0.8"/>
<line x1="320.35" y1="483.87" x2="320.35" y2="488.74" stroke="#000" stroke-width="1.15" />
<line x1="317.95" y1="483.87" x2="322.75" y2="483.87" stroke="#000" stroke-width="1.15" />
<line x1="317.95" y1="488.74" x2="322.75" y2="488.74" stroke="#000" stroke-width="1.15" />
<line x1="326.86" y1="476.50" x2="326.86" y2="483.45" stroke="#000" stroke-width="1.15" />
<line x1="324.46" y1="476.50" x2="329.26" y2="476.50" stroke="#000" stroke-width="1.15" />
<line x1="324.46" y1="483.45" x2="329.26" y2="483.45" stroke="#000" stroke-width="1.15" />
<line x1="333.38" y1="474.00" x2="333.38" y2="480.95" stroke="#000" stroke-width="1.15" />
<line x1="330.98" y1="474.00" x2="335.77" y2="474.00" stroke="#000" stroke-width="1.15" />
<line x1="330.98" y1="480.95" x2="335.77" y2="480.95" stroke="#000" stroke-width="1.15" />
<line x1="339.89" y1="451.90" x2="339.89" y2="474.14" stroke="#000" stroke-width="1.15" />
<line x1="337.49" y1="451.90" x2="342.29" y2="451.90" stroke="#000" stroke-width="1.15" />
<line x1="337.49" y1="474.14" x2="342.29" y2="474.14" stroke="#000" stroke-width="1.15" />
<line x1="346.41" y1="442.17" x2="346.41" y2="472.06" stroke="#000" stroke-width="1.15" />
<line x1="344.01" y1="442.17" x2="348.81" y2="442.17" stroke="#000" stroke-width="1.15" />
<line x1="344.01" y1="472.06" x2="348.81" y2="472.06" stroke="#000" stroke-width="1.15" />
<path d="M300.80 496.14 L303.70 501.74 L297.90 501.74 Z" fill="#000"/>
<path d="M307.31 493.08 L310.21 498.68 L304.42 498.68 Z" fill="#000"/>
<path d="M313.83 490.30 L316.73 495.90 L310.93 495.90 Z" fill="#000"/>
<path d="M320.35 483.35 L323.25 488.95 L317.45 488.95 Z" fill="#000"/>
<path d="M326.86 476.68 L329.76 482.28 L323.96 482.28 Z" fill="#000"/>
<path d="M333.38 474.18 L336.27 479.78 L330.48 479.78 Z" fill="#000"/>
<path d="M339.89 460.42 L342.79 466.01 L336.99 466.01 Z" fill="#000"/>
<path d="M346.41 454.16 L349.31 459.76 L343.51 459.76 Z" fill="#000"/>
<polyline points="346.41,457.46 353.50,437.00" fill="none" stroke="#000" stroke-width="0.8"/>
<polyline points="300.80,499.86 307.31,498.46 313.83,499.86 320.35,501.25 326.86,501.94 333.38,501.25 339.89,499.16 346.41,494.99 352.92,489.99 359.44,481.09 365.95,469.41 372.47,461.21 378.98,440.64" fill="none" stroke="#000" stroke-width="0.8"/>
<line x1="339.89" y1="496.38" x2="339.89" y2="501.25" stroke="#000" stroke-width="1.15" />
<line x1="337.49" y1="496.38" x2="342.29" y2="496.38" stroke="#000" stroke-width="1.15" />
<line x1="337.49" y1="501.25" x2="342.29" y2="501.25" stroke="#000" stroke-width="1.15" />
<line x1="346.41" y1="492.21" x2="346.41" y2="497.77" stroke="#000" stroke-width="1.15" />
<line x1="344.01" y1="492.21" x2="348.81" y2="492.21" stroke="#000" stroke-width="1.15" />
<line x1="344.01" y1="497.77" x2="348.81" y2="497.77" stroke="#000" stroke-width="1.15" />
<line x1="352.92" y1="485.82" x2="352.92" y2="494.16" stroke="#000" stroke-width="1.15" />
<line x1="350.52" y1="485.82" x2="355.32" y2="485.82" stroke="#000" stroke-width="1.15" />
<line x1="350.52" y1="494.16" x2="355.32" y2="494.16" stroke="#000" stroke-width="1.15" />
<line x1="359.44" y1="472.06" x2="359.44" y2="489.43" stroke="#000" stroke-width="1.15" />
<line x1="357.04" y1="472.06" x2="361.83" y2="472.06" stroke="#000" stroke-width="1.15" />
<line x1="357.04" y1="489.43" x2="361.83" y2="489.43" stroke="#000" stroke-width="1.15" />
<line x1="365.95" y1="455.51" x2="365.95" y2="480.53" stroke="#000" stroke-width="1.15" />
<line x1="363.55" y1="455.51" x2="368.35" y2="455.51" stroke="#000" stroke-width="1.15" />
<line x1="363.55" y1="480.53" x2="368.35" y2="480.53" stroke="#000" stroke-width="1.15" />
<line x1="372.47" y1="443.14" x2="372.47" y2="477.20" stroke="#000" stroke-width="1.15" />
<line x1="370.07" y1="443.14" x2="374.87" y2="443.14" stroke="#000" stroke-width="1.15" />
<line x1="370.07" y1="477.20" x2="374.87" y2="477.20" stroke="#000" stroke-width="1.15" />
<rect x="298.20" y="497.25" width="5.20" height="5.20" fill="#000"/>
<rect x="304.71" y="495.86" width="5.20" height="5.20" fill="#000"/>
<rect x="311.23" y="497.25" width="5.20" height="5.20" fill="#000"/>
<rect x="317.75" y="498.64" width="5.20" height="5.20" fill="#000"/>
<rect x="324.26" y="499.34" width="5.20" height="5.20" fill="#000"/>
<rect x="330.77" y="498.64" width="5.20" height="5.20" fill="#000"/>
<rect x="337.29" y="496.56" width="5.20" height="5.20" fill="#000"/>
<rect x="343.81" y="492.39" width="5.20" height="5.20" fill="#000"/>
<rect x="350.32" y="487.39" width="5.20" height="5.20" fill="#000"/>
<rect x="356.83" y="478.49" width="5.20" height="5.20" fill="#000"/>
<rect x="363.35" y="466.81" width="5.20" height="5.20" fill="#000"/>
<rect x="369.87" y="458.61" width="5.20" height="5.20" fill="#000"/>
<rect x="376.38" y="438.04" width="5.20" height="5.20" fill="#000"/>
<polyline points="300.80,499.86 307.31,500.55 313.83,501.25 320.35,500.55 326.86,499.86 333.38,499.16 339.89,496.38 346.41,494.99 352.92,490.82 359.44,484.98 365.95,476.92 372.47,470.94 378.98,463.16 385.50,454.82 392.01,441.61" fill="none" stroke="#000" stroke-width="0.8"/>
<line x1="339.89" y1="494.99" x2="339.89" y2="497.77" stroke="#000" stroke-width="1.15" />
<line x1="337.49" y1="494.99" x2="342.29" y2="494.99" stroke="#000" stroke-width="1.15" />
<line x1="337.49" y1="497.77" x2="342.29" y2="497.77" stroke="#000" stroke-width="1.15" />
<line x1="346.41" y1="492.90" x2="346.41" y2="497.07" stroke="#000" stroke-width="1.15" />
<line x1="344.01" y1="492.90" x2="348.81" y2="492.90" stroke="#000" stroke-width="1.15" />
<line x1="344.01" y1="497.07" x2="348.81" y2="497.07" stroke="#000" stroke-width="1.15" />
<line x1="352.92" y1="487.35" x2="352.92" y2="494.30" stroke="#000" stroke-width="1.15" />
<line x1="350.52" y1="487.35" x2="355.32" y2="487.35" stroke="#000" stroke-width="1.15" />
<line x1="350.52" y1="494.30" x2="355.32" y2="494.30" stroke="#000" stroke-width="1.15" />
<line x1="359.44" y1="479.42" x2="359.44" y2="492.77" stroke="#000" stroke-width="1.15" />
<line x1="357.04" y1="479.42" x2="361.83" y2="479.42" stroke="#000" stroke-width="1.15" />
<line x1="357.04" y1="492.77" x2="361.83" y2="492.77" stroke="#000" stroke-width="1.15" />
<line x1="365.95" y1="469.27" x2="365.95" y2="488.46" stroke="#000" stroke-width="1.15" />
<line x1="363.55" y1="469.27" x2="368.35" y2="469.27" stroke="#000" stroke-width="1.15" />
<line x1="363.55" y1="488.46" x2="368.35" y2="488.46" stroke="#000" stroke-width="1.15" />
<line x1="372.47" y1="460.52" x2="372.47" y2="485.12" stroke="#000" stroke-width="1.15" />
<line x1="370.07" y1="460.52" x2="374.87" y2="460.52" stroke="#000" stroke-width="1.15" />
<line x1="370.07" y1="485.12" x2="374.87" y2="485.12" stroke="#000" stroke-width="1.15" />
<line x1="378.98" y1="445.09" x2="378.98" y2="480.26" stroke="#000" stroke-width="1.15" />
<line x1="376.58" y1="445.09" x2="381.38" y2="445.09" stroke="#000" stroke-width="1.15" />
<line x1="376.58" y1="480.26" x2="381.38" y2="480.26" stroke="#000" stroke-width="1.15" />
<line x1="385.50" y1="438.83" x2="385.50" y2="475.11" stroke="#000" stroke-width="1.15" />
<line x1="383.10" y1="438.83" x2="387.89" y2="438.83" stroke="#000" stroke-width="1.15" />
<line x1="383.10" y1="475.11" x2="387.89" y2="475.11" stroke="#000" stroke-width="1.15" />
<line x1="392.01" y1="438.83" x2="392.01" y2="467.88" stroke="#000" stroke-width="1.15" />
<line x1="389.61" y1="438.83" x2="394.41" y2="438.83" stroke="#000" stroke-width="1.15" />
<line x1="389.61" y1="467.88" x2="394.41" y2="467.88" stroke="#000" stroke-width="1.15" />
<path d="M300.80 496.56 L304.10 499.86 L300.80 503.16 L297.50 499.86 Z" fill="#fff" stroke="#000" stroke-width="1.2"/>
<path d="M307.31 497.25 L310.62 500.55 L307.31 503.85 L304.01 500.55 Z" fill="#fff" stroke="#000" stroke-width="1.2"/>
<path d="M313.83 497.94 L317.13 501.25 L313.83 504.55 L310.53 501.25 Z" fill="#fff" stroke="#000" stroke-width="1.2"/>
<path d="M320.35 497.25 L323.65 500.55 L320.35 503.85 L317.05 500.55 Z" fill="#fff" stroke="#000" stroke-width="1.2"/>
<path d="M326.86 496.56 L330.16 499.86 L326.86 503.16 L323.56 499.86 Z" fill="#fff" stroke="#000" stroke-width="1.2"/>
<path d="M333.38 495.86 L336.68 499.16 L333.38 502.46 L330.07 499.16 Z" fill="#fff" stroke="#000" stroke-width="1.2"/>
<path d="M339.89 493.08 L343.19 496.38 L339.89 499.68 L336.59 496.38 Z" fill="#fff" stroke="#000" stroke-width="1.2"/>
<path d="M346.41 491.69 L349.71 494.99 L346.41 498.29 L343.11 494.99 Z" fill="#fff" stroke="#000" stroke-width="1.2"/>
<path d="M352.92 487.52 L356.22 490.82 L352.92 494.12 L349.62 490.82 Z" fill="#fff" stroke="#000" stroke-width="1.2"/>
<path d="M359.44 481.68 L362.74 484.98 L359.44 488.28 L356.13 484.98 Z" fill="#fff" stroke="#000" stroke-width="1.2"/>
<path d="M365.95 473.62 L369.25 476.92 L365.95 480.22 L362.65 476.92 Z" fill="#fff" stroke="#000" stroke-width="1.2"/>
<path d="M372.47 467.64 L375.77 470.94 L372.47 474.24 L369.17 470.94 Z" fill="#fff" stroke="#000" stroke-width="1.2"/>
<path d="M378.98 459.86 L382.28 463.16 L378.98 466.46 L375.68 463.16 Z" fill="#fff" stroke="#000" stroke-width="1.2"/>
<path d="M385.50 451.52 L388.80 454.82 L385.50 458.12 L382.19 454.82 Z" fill="#fff" stroke="#000" stroke-width="1.2"/>
<path d="M392.01 438.31 L395.31 441.61 L392.01 444.91 L388.71 441.61 Z" fill="#fff" stroke="#000" stroke-width="1.2"/>
<polyline points="300.80,499.86 307.31,497.77 313.83,501.25 320.35,502.63 326.86,503.33 333.38,504.02 339.89,504.44 346.41,503.33 352.92,502.63 359.44,503.05 365.95,503.05 372.47,502.91 378.98,502.91 385.50,502.50 392.01,501.25 398.52,499.16" fill="none" stroke="#000" stroke-width="0.8"/>
<rect x="298.20" y="497.25" width="5.20" height="5.20" fill="#fff" stroke="#000" stroke-width="1.25"/>
<rect x="304.71" y="495.17" width="5.20" height="5.20" fill="#fff" stroke="#000" stroke-width="1.25"/>
<rect x="311.23" y="498.64" width="5.20" height="5.20" fill="#fff" stroke="#000" stroke-width="1.25"/>
<rect x="317.75" y="500.03" width="5.20" height="5.20" fill="#fff" stroke="#000" stroke-width="1.25"/>
<rect x="324.26" y="500.73" width="5.20" height="5.20" fill="#fff" stroke="#000" stroke-width="1.25"/>
<rect x="330.77" y="501.42" width="5.20" height="5.20" fill="#fff" stroke="#000" stroke-width="1.25"/>
<rect x="337.29" y="501.84" width="5.20" height="5.20" fill="#fff" stroke="#000" stroke-width="1.25"/>
<rect x="343.81" y="500.73" width="5.20" height="5.20" fill="#fff" stroke="#000" stroke-width="1.25"/>
<rect x="350.32" y="500.03" width="5.20" height="5.20" fill="#fff" stroke="#000" stroke-width="1.25"/>
<rect x="356.83" y="500.45" width="5.20" height="5.20" fill="#fff" stroke="#000" stroke-width="1.25"/>
<rect x="363.35" y="500.45" width="5.20" height="5.20" fill="#fff" stroke="#000" stroke-width="1.25"/>
<rect x="369.87" y="500.31" width="5.20" height="5.20" fill="#fff" stroke="#000" stroke-width="1.25"/>
<rect x="376.38" y="500.31" width="5.20" height="5.20" fill="#fff" stroke="#000" stroke-width="1.25"/>
<rect x="382.89" y="499.90" width="5.20" height="5.20" fill="#fff" stroke="#000" stroke-width="1.25"/>
<rect x="389.41" y="498.64" width="5.20" height="5.20" fill="#fff" stroke="#000" stroke-width="1.25"/>
<rect x="395.92" y="496.56" width="5.20" height="5.20" fill="#fff" stroke="#000" stroke-width="1.25"/>
<polyline points="407.50,438.00 411.30,438.00 411.30,498.80 407.50,498.80" fill="none" stroke="#333" stroke-width="1.2"/>
<text x="414.3" y="472.6" font-size="7.8" font-weight="bold" text-anchor="start" stroke="#000" stroke-width="0.3">*****</text>
<path d="M313.50 542.30 L316.10 547.30 L310.90 547.30 Z" fill="#000"/>
<text x="321.8" y="548.1" font-size="8.6" font-weight="bold" text-anchor="start"  class="t">Untreated</text>
<rect x="310.60" y="552.50" width="5.8" height="4.4" fill="#000"/>
<text x="321.8" y="557.7" font-size="8.6" font-weight="bold" text-anchor="start"  class="t">EV + control IgG</text>
<path d="M313.50 561.40 L316.40 564.30 L313.50 567.20 L310.60 564.30 Z" fill="#fff" stroke="#000" stroke-width="1.2"/>
<text x="321.8" y="567.4" font-size="8.6" font-weight="bold" text-anchor="start"  class="t">CTC28 + αIL-2 Ab</text>
<rect x="310.90" y="571.50" width="5.4" height="4.6" fill="#fff" stroke="#000" stroke-width="1.25"/>
<text x="321.8" y="576.9" font-size="8.6" font-weight="bold" text-anchor="start"  class="t">CTC28 + control IgG</text>
</svg>
</body></html>
